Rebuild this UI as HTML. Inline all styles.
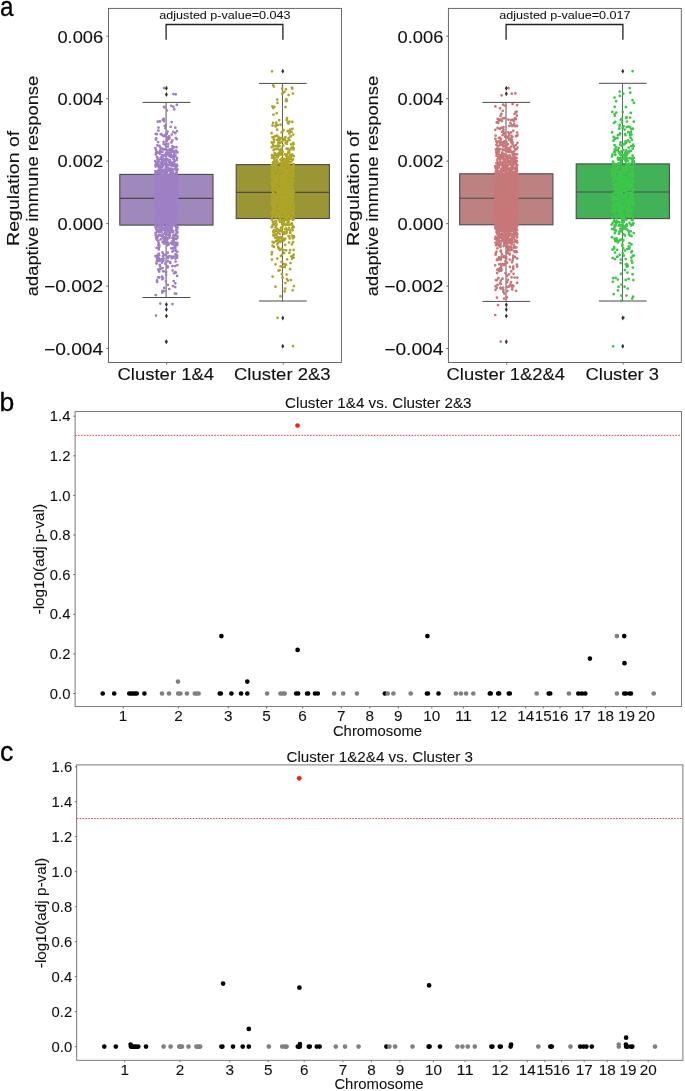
<!DOCTYPE html>
<html lang="en">
<head>
<meta charset="utf-8">
<title>Figure</title>
<style>
html,body{margin:0;padding:0;background:#fff;}
body{width:685px;height:1091px;overflow:hidden;}
svg{display:block;font-family:"Liberation Sans",sans-serif;will-change:transform;}
</style>
</head>
<body>
<svg width="685" height="1091" viewBox="0 0 685 1091">
<rect width="685" height="1091" fill="#fff"/>
<g id="panel-a">
<rect x="108.5" y="8.4" width="232.9" height="354.1" fill="#fff" stroke="#5a5a5a" stroke-width="0.9"/>
<path d="M106.3 36.2L108.5 36.2" stroke="#5a5a5a" stroke-width="0.9"/>
<text x="103.2" y="42.5" font-size="16.3" text-anchor="end" textLength="45.8" lengthAdjust="spacingAndGlyphs" fill="#111" stroke="#111" stroke-width="0.12">0.006</text>
<path d="M106.3 98.7L108.5 98.7" stroke="#5a5a5a" stroke-width="0.9"/>
<text x="103.2" y="105" font-size="16.3" text-anchor="end" textLength="45.8" lengthAdjust="spacingAndGlyphs" fill="#111" stroke="#111" stroke-width="0.12">0.004</text>
<path d="M106.3 161.1L108.5 161.1" stroke="#5a5a5a" stroke-width="0.9"/>
<text x="103.2" y="167.4" font-size="16.3" text-anchor="end" textLength="45.8" lengthAdjust="spacingAndGlyphs" fill="#111" stroke="#111" stroke-width="0.12">0.002</text>
<path d="M106.3 223.6L108.5 223.6" stroke="#5a5a5a" stroke-width="0.9"/>
<text x="103.2" y="229.9" font-size="16.3" text-anchor="end" textLength="45.8" lengthAdjust="spacingAndGlyphs" fill="#111" stroke="#111" stroke-width="0.12">0.000</text>
<path d="M106.3 286.1L108.5 286.1" stroke="#5a5a5a" stroke-width="0.9"/>
<text x="103.2" y="292.4" font-size="16.3" text-anchor="end" textLength="59.2" lengthAdjust="spacingAndGlyphs" fill="#111" stroke="#111" stroke-width="0.12">−0.002</text>
<path d="M106.3 348.5L108.5 348.5" stroke="#5a5a5a" stroke-width="0.9"/>
<text x="103.2" y="354.8" font-size="16.3" text-anchor="end" textLength="59.2" lengthAdjust="spacingAndGlyphs" fill="#111" stroke="#111" stroke-width="0.12">−0.004</text>
<text x="19.5" y="188.3" font-size="16.3" text-anchor="middle" textLength="115.2" lengthAdjust="spacingAndGlyphs" transform="rotate(-90 19.5 188.3)" fill="#111" stroke="#111" stroke-width="0.12">Regulation of</text>
<text x="37.8" y="186" font-size="16.3" text-anchor="middle" textLength="220.5" lengthAdjust="spacingAndGlyphs" transform="rotate(-90 37.8 186)" fill="#111" stroke="#111" stroke-width="0.12">adaptive immune response</text>
<path d="M166.7 362.4L166.7 364.6" stroke="#5a5a5a" stroke-width="0.9"/>
<text x="165.8" y="379.8" font-size="16.3" text-anchor="middle" textLength="96.6" lengthAdjust="spacingAndGlyphs" fill="#111" stroke="#111" stroke-width="0.12">Cluster 1&amp;4</text>
<path d="M283.2 362.4L283.2 364.6" stroke="#5a5a5a" stroke-width="0.9"/>
<text x="282.3" y="379.8" font-size="16.3" text-anchor="middle" textLength="96.6" lengthAdjust="spacingAndGlyphs" fill="#111" stroke="#111" stroke-width="0.12">Cluster 2&amp;3</text>
<path d="M166.1 102.4L166.1 174.4" stroke="#666" stroke-width="1.1"/>
<path d="M166.1 225.1L166.1 297.5" stroke="#666" stroke-width="1.1"/>
<path d="M142.5 102.4L190.3 102.4" stroke="#4a4a4a" stroke-width="1"/>
<path d="M142.5 297.5L190.3 297.5" stroke="#4a4a4a" stroke-width="1"/>
<rect x="119.8" y="174.4" width="93.2" height="50.7" fill="#9e88bc" stroke="#4a4a4a" stroke-width="1.1"/>
<path d="M119.8 198.4L213 198.4" stroke="#4a4a4a" stroke-width="1.1"/>
<path d="M175.9 256h.01M165.6 180.9h.01M159.3 260.9h.01M166.6 201.7h.01M157.3 255.6h.01M162 259.2h.01M170.7 126.8h.01M156.1 152.6h.01M169.8 212.1h.01M155.5 219.1h.01M167 216.8h.01M160.6 170.3h.01M155.8 187.5h.01M174 247.8h.01M166.8 187.3h.01M170 233.7h.01M165.4 241.2h.01M177.5 227.3h.01M162.2 159.2h.01M160.3 260.6h.01M172.3 203h.01M164.1 181.3h.01M176.6 172.2h.01M174.2 236.7h.01M175.6 166.5h.01M165.7 198.5h.01M156.8 151.8h.01M169.3 204.4h.01M157.1 192h.01M162.6 235.2h.01M157.8 121.7h.01M160.7 216.3h.01M173 185.4h.01M159.2 188.9h.01M159.4 246.1h.01M171.6 217.2h.01M157.8 152.9h.01M164.6 149.3h.01M176.9 190h.01M173.2 162.5h.01M159.9 231.1h.01M164 106.8h.01M157.4 157.7h.01M177.3 251.8h.01M172.5 190.3h.01M162.5 163.4h.01M157.2 203.9h.01M168.2 181.1h.01M163.5 195.8h.01M165.3 135.2h.01M168 146.5h.01M174.6 212.3h.01M175.5 187.5h.01M173.5 173.9h.01M171.7 198.5h.01M176.2 168.2h.01M174.9 160.8h.01M157.5 237.6h.01M156 228.3h.01M171 165h.01M160.9 206.7h.01M161.7 170.4h.01M159.1 255.1h.01M160.3 201.9h.01M167.7 216h.01M161.5 159.8h.01M175.7 250.3h.01M161.2 196.2h.01M165.2 190.4h.01M163.4 171.5h.01M168 187.8h.01M175.1 168.5h.01M177.1 165.9h.01M168.3 238.3h.01M158.3 258.5h.01M175.6 189.9h.01M170.9 196.7h.01M169.4 189.2h.01M166 200.9h.01M177.6 203.6h.01M156.9 239.4h.01M175.3 272h.01M171.7 220.5h.01M175.7 222.5h.01M163.1 278.3h.01M174.7 238.5h.01M164.5 291.1h.01M168 175.1h.01M169.2 289.1h.01M168.8 244.4h.01M157 156.9h.01M174.9 293.5h.01M171.6 205h.01M168.2 244.6h.01M157.1 281.9h.01M172 166h.01M165.9 136.2h.01M160.3 186.8h.01M168.9 216.1h.01M175.8 250.7h.01M161.9 198.9h.01M170.4 191.6h.01M175.5 190.2h.01M170 171.3h.01M162.5 290.9h.01M170.1 163.4h.01M173.2 182.8h.01M175.7 151.5h.01M168.2 164.9h.01M162.3 230.1h.01M173.9 162.6h.01M174.2 157.2h.01M161.4 226.3h.01M161.3 173.7h.01M160 153.8h.01M166.2 254.9h.01M162.2 164.8h.01M165.3 128.1h.01M174.7 188.1h.01M156.1 193.3h.01M162.1 214.3h.01M172.9 257.5h.01M165.4 173.5h.01M155.7 195.6h.01M158.3 182.1h.01M156.2 228.9h.01M169.3 233.7h.01M169.8 235.6h.01M170.5 156.9h.01M159.2 182h.01M155.4 148.1h.01M159.2 271.6h.01M161.3 185.7h.01M166.8 239.6h.01M168.9 138.9h.01M172.9 196.8h.01M175.5 245.4h.01M171.4 105.8h.01M158.1 142h.01M175.6 261.5h.01M163.6 179.7h.01M173 286.1h.01M176.3 239h.01M159.8 264.9h.01M171.3 183.3h.01M171.3 170.7h.01M160 259.6h.01M177.1 275.9h.01M162.4 279.2h.01M175.6 217.7h.01M157 171.9h.01M165.1 232.7h.01M166.1 274.7h.01M155.8 223.5h.01M173.1 192.4h.01M159 214.5h.01M158.3 240.6h.01M158.5 127.6h.01M174 273.3h.01M170.6 206.4h.01M176.4 147.2h.01M157.1 216.9h.01M161.7 188.4h.01M171.5 142.3h.01M174.1 235.2h.01M167.7 242.3h.01M174.1 216h.01M175.3 156.1h.01M176.9 174.9h.01M166.9 110.4h.01M167.2 226.8h.01M166.4 212.5h.01M176.9 207.4h.01M166.7 205.4h.01M167.8 266.9h.01M166.2 149.4h.01M167.2 204.9h.01M164.4 214.7h.01M161.2 227h.01M164.9 222.7h.01M173.4 194.5h.01M162.3 155.4h.01M159.5 229.8h.01M158.1 277.3h.01M172.6 270.6h.01M160.3 168.2h.01M170.6 194.2h.01M169.1 217.8h.01M157.5 159.2h.01M166.6 201.5h.01M160.8 222.4h.01M165 180h.01M163.6 144.1h.01M158.8 247.8h.01M159.8 168.9h.01M167 244h.01M174.2 247.7h.01M160.4 269.1h.01M171.8 258.2h.01M162.3 161.1h.01M162.2 292.5h.01M177.5 169.6h.01M175.1 213.9h.01M171.5 175.5h.01M161 172.8h.01M164.6 126.1h.01M172.9 148h.01M170.5 165.2h.01M155.6 164.8h.01M175.6 177.1h.01M176.9 131h.01M172.2 157h.01M166.4 161.7h.01M156.8 210.5h.01M157.6 226.5h.01M166.7 140.9h.01M167.9 184.8h.01M159.7 180.5h.01M174 174.8h.01M157.3 205.1h.01M165.5 154.9h.01M165.6 194.8h.01M166.7 240.1h.01M155.5 256.1h.01M170.9 171.6h.01M165.3 182.1h.01M171.7 223.2h.01M158.9 224.2h.01M166.7 181.3h.01M173.1 189h.01M169.3 224.8h.01M164.2 287.9h.01M177.2 243.6h.01M173.2 231.1h.01M171.9 204h.01M164.3 183.6h.01M175.3 283.3h.01M172.4 146.1h.01M172.3 248.1h.01M156.8 260.9h.01M162.8 156.7h.01M163.1 205.3h.01M169.5 197.3h.01M176.3 222.8h.01M170.1 222.5h.01M167.9 234.7h.01M167.1 140h.01M172.2 244.2h.01M177.1 255.4h.01M171.7 134.5h.01M160.9 189.4h.01M159.6 210.9h.01M163.6 189.9h.01M175.5 169.6h.01M167.5 178h.01M167.9 204.6h.01M173.3 131.9h.01M156.9 200.7h.01M156.2 263.3h.01M176 244.1h.01M159 170.2h.01M166.3 154h.01M176.3 211.1h.01M164.6 209.1h.01M163.4 260.9h.01M161.6 209.2h.01M161.5 232.3h.01M171.2 248.3h.01M160.7 200.9h.01M156.1 191.1h.01M163.9 155.1h.01M175.3 133.2h.01M177.3 198.8h.01M176.3 213.6h.01M164.8 107.5h.01M165.9 153.3h.01M166.9 164.1h.01M176.2 204.5h.01M177.1 207.6h.01M173.5 250.5h.01M169.2 217h.01M165.4 212.7h.01M167 194.2h.01M158 183.9h.01M165.4 263.7h.01M161 174.2h.01M172.6 241.1h.01M167.1 222.8h.01M171.6 200.3h.01M175.2 196.9h.01M172.7 175.7h.01M161.3 229.9h.01M170.5 229.9h.01M169.4 256.2h.01M172.1 223.5h.01M177.1 185.5h.01M175.7 165.7h.01M156.5 189h.01M161.2 207.8h.01M157.5 257h.01M167.3 169h.01M170.3 180.7h.01M167.5 189.9h.01M165.9 229.4h.01M159.9 231.8h.01M174 241.6h.01M156.8 134.2h.01M169.1 136.4h.01M172.4 140.3h.01M161 187.3h.01M173.3 150.7h.01M177.3 245h.01M162.5 148.6h.01M175.8 272.6h.01M164.8 221.9h.01M174.8 213h.01M156.9 183.1h.01M166 146.3h.01M170.5 168.5h.01M156.9 223.1h.01M160 121.4h.01M162 208.8h.01M171.4 215.1h.01M158.4 211.8h.01M163.2 234.5h.01M157.8 205.3h.01M171.1 242.9h.01M176.2 293.7h.01M175.6 242.8h.01M162 276.7h.01M162.3 166.6h.01M175.2 287h.01M160.7 134.1h.01M163.3 227.5h.01M164 164.5h.01M167.8 222.1h.01M173 178.6h.01M167.8 284.9h.01M159.1 221.1h.01M161.5 193.2h.01M155.7 295.1h.01M167.9 257h.01M176.8 204.4h.01M156.6 247.8h.01M167.4 267.4h.01M157 194h.01M171.7 217.7h.01M169.4 182.7h.01M158.4 210.3h.01M160.7 200.4h.01M160.1 266.4h.01M172.3 193.1h.01M164 255.2h.01M170.2 263.1h.01M171.3 256.7h.01M171 196.3h.01M173.7 157.2h.01M170.1 223.1h.01M173.9 147.3h.01M175.1 266.1h.01M166.9 134h.01M171.1 216.2h.01M164.6 182.8h.01M158.4 245h.01M163.6 206.5h.01M164.7 183h.01M161.7 171.1h.01M162.1 182.6h.01M157.7 201.7h.01M159.2 247.1h.01M156.6 263.6h.01M175.5 258.6h.01M156 182.7h.01M160 175.4h.01M160.4 179.7h.01M160.2 211.5h.01M159.3 260.2h.01M172.1 204.2h.01M162.2 170.3h.01M165.9 281h.01M161 224.4h.01M162.8 119.7h.01M167.4 266.1h.01M160.1 146.8h.01M156.3 213h.01M163.8 118.9h.01M167 225.9h.01M177.4 236h.01M169.9 202.3h.01M165.8 198.1h.01M163.5 191.7h.01M168.8 177.2h.01M158.7 269.5h.01M161 175.8h.01M174.6 164.2h.01M177.4 265h.01M161.1 205.4h.01M172.4 224.8h.01M155.2 204.4h.01M173.6 159.3h.01M157 280.3h.01M157.4 207.9h.01M165.9 124.8h.01M168.3 175.8h.01M172.9 173.7h.01M164.5 229.7h.01M173.7 180.9h.01M159.8 208.8h.01M158.7 253.7h.01M173.8 214h.01M156.9 213.8h.01M162 161.2h.01M163.2 271.3h.01M170.6 183.4h.01M165.5 161.7h.01M176.8 169.7h.01M155.5 165.8h.01M163.6 258.5h.01M167.8 207.2h.01M165.4 232h.01M173.1 189.1h.01M161.7 181.2h.01M163.6 136.2h.01M162.7 236.8h.01M164 208.4h.01M159.7 216.6h.01M171.6 229.8h.01M167.8 252.6h.01M173.7 205.5h.01M157.2 240.1h.01M170.4 185.4h.01M171 182.5h.01M173.9 178.4h.01M168.5 155.6h.01M158.7 170.3h.01M158 180.6h.01M175.8 213.8h.01M164.7 188.6h.01M172.4 266.1h.01M173.6 203.5h.01M164.4 230.3h.01M155.5 171h.01M177.2 257.6h.01M172.9 156.2h.01M155.6 232.9h.01M162.6 252.8h.01M157.6 235.8h.01M163.6 141.8h.01M173.7 281h.01M168.9 203.5h.01M175.4 155.1h.01M167.5 131.6h.01M158.4 231.8h.01M171.2 154.5h.01M171.2 142.4h.01M173.9 203.3h.01M169.2 161.9h.01M160.7 192.3h.01M168.1 180.1h.01M176 212.3h.01M163.3 238.2h.01M177 222.1h.01M158.2 193.1h.01M167.7 150.3h.01M167.7 231.9h.01M177.4 207.9h.01M157.9 172.5h.01M173.6 256.5h.01M160.6 222.6h.01M159.3 277.6h.01M167.4 238h.01M159.2 188h.01M177.3 193.1h.01M162.1 134.9h.01M170.2 224.1h.01M168.4 202.2h.01M173.2 244.4h.01M165.7 167.5h.01M158.4 195.4h.01M159.1 244.6h.01M166.8 158.8h.01M162.6 203.8h.01M169.5 138.2h.01M158.4 130.7h.01M176.7 182.2h.01M164.4 241.3h.01M169.1 229.7h.01M172 228h.01M166.1 271.9h.01M174.3 109.3h.01M164.3 201.6h.01M175.5 254h.01M167 174.2h.01M175.4 247.8h.01M162.4 206.4h.01M175.3 127.7h.01M171.6 173.2h.01M162 262.6h.01M168.5 243.6h.01M165.2 176.8h.01M166.4 188.4h.01M170.7 210.8h.01M167 189.4h.01M164 195.9h.01M160.5 158.7h.01M176.8 104.9h.01M170.1 155.6h.01M173.2 165.9h.01M160.1 235.1h.01M175.4 199.9h.01M157.4 259.2h.01M167.2 192.3h.01M176.5 221.9h.01M161.9 163.6h.01M162.4 198.5h.01M173.4 106.8h.01M164.1 160.5h.01M156.2 237.2h.01M155.9 149.9h.01M166.3 166.3h.01M176.1 211.4h.01M159.8 170.6h.01M161.8 202.6h.01M159.6 151.5h.01M173.9 223.5h.01M159 215.8h.01M174.9 176.2h.01M169.3 181.8h.01M159.5 199.1h.01M157.6 192.8h.01M171.4 204.1h.01M174.7 219.3h.01M171.1 149.1h.01M176.2 173.1h.01M165.1 169.7h.01M162.1 183h.01M171.1 190.2h.01M160.4 193.4h.01M170.1 183.7h.01M170 192.6h.01M175 222h.01M161.9 213.8h.01M175.9 208.3h.01M169.5 208.6h.01M157.2 216.1h.01M167 171.9h.01M167.1 201.5h.01M161.5 166.2h.01M160.8 189.1h.01M161.6 195.1h.01M172.1 208.7h.01M167.5 198.1h.01M159.3 178.4h.01M155.9 139.5h.01M165.5 243.3h.01M176 198.5h.01M166.4 223.2h.01M169.6 185h.01M163.2 169.8h.01M166.7 222.4h.01M166.5 235.2h.01M166.8 177.2h.01M176.5 229.9h.01M158.9 178.6h.01M168.8 160h.01M172.5 196.1h.01M172.8 171.8h.01M166.1 193.9h.01M160.1 216.3h.01M156 224.3h.01M168.5 212.8h.01M174.7 205.8h.01M159.2 230.4h.01M166.3 195.9h.01M164.9 194.8h.01M173.1 216.8h.01M156.8 191.6h.01M167.3 171.6h.01M172.9 216.4h.01M162.1 197.6h.01M156.1 184.6h.01M166.9 212.3h.01M161.1 166.6h.01M173.6 207.7h.01M159 204.3h.01M170.6 199.1h.01M173.8 183.9h.01M164.4 196.6h.01M163.3 207.3h.01M156.1 184.7h.01M166.1 133.8h.01M158.4 193.5h.01M165.4 271.5h.01M160.6 198.8h.01M175.1 205.7h.01M161.9 182.9h.01M164.7 179.2h.01M177.5 192.8h.01M172.3 195.6h.01M160.8 200.4h.01M167.5 216.6h.01M176.1 197.2h.01M163.3 170.9h.01M168.9 235.3h.01M156.1 138.4h.01M156.5 228.3h.01M162.9 177.9h.01M168.4 215.6h.01M175 245.6h.01M174.1 222.9h.01M163.7 192.8h.01M163 195.2h.01M159.3 215.7h.01M159.7 212.8h.01M160 203.2h.01M165.2 219.6h.01M177.4 194.3h.01M159.8 220h.01M163.8 243.6h.01M163.3 164.3h.01M161.3 181.7h.01M161.1 182.9h.01M164 196.8h.01M161.2 163.5h.01M163.3 216.9h.01M163.2 165.2h.01M172.3 150.4h.01M155.6 207.7h.01M162.4 252.3h.01M174.9 206.4h.01M162.5 191.7h.01M156.4 194.7h.01M164 228.6h.01M158.6 198.1h.01M168.5 191.4h.01M164.7 177.4h.01M167.4 194.3h.01M161 172.9h.01M171.4 169.1h.01M159.8 205.7h.01M161.5 210.8h.01M163.8 204.5h.01M174.6 223.4h.01M162.9 195.5h.01M160 178.1h.01M169.3 193.2h.01M167.9 197.2h.01M161.9 174.1h.01M170.2 262.1h.01M170.6 183.4h.01M170.1 207.1h.01M160.4 150.3h.01M169.3 212.6h.01M164 176.3h.01M156.5 184.5h.01M166.3 215.2h.01M161.4 183.7h.01M165.8 184.8h.01M158.9 177.3h.01M157.3 208h.01M162.8 214.6h.01M168.2 211.2h.01M170.9 191.9h.01M155.7 235.2h.01M163.9 211.3h.01M164.2 204.5h.01M156.4 191.8h.01M165.7 231.8h.01M162.5 197.7h.01M162.9 198.7h.01M175.2 193.2h.01M170.1 216.5h.01M159.3 206.4h.01M176.6 232.5h.01M163.3 192h.01M172.5 251.6h.01M169.2 226.1h.01M164.5 217.3h.01M161.4 216.3h.01M163.7 174h.01M175.6 243.7h.01M166.5 185.5h.01M162.1 195.4h.01M158.5 242.5h.01M159.5 145.9h.01M160.4 193.5h.01M155.2 161.2h.01M160.5 222.7h.01M166.2 205.4h.01M169.2 217.1h.01M167.7 224.1h.01M162.6 166.5h.01M162.9 256.1h.01M171.2 182.3h.01M170.8 212.8h.01M173.6 223.6h.01M158.7 258h.01M167.8 219.6h.01M163.5 218.7h.01M167.1 207.9h.01M160.5 158.1h.01M159.2 198.5h.01M166.7 176.5h.01M156.7 192.3h.01M157.5 192.2h.01M165.3 202h.01M172.5 210.3h.01M174.6 213.4h.01M174.7 196.8h.01M166.5 180.6h.01M173 192.3h.01M160.8 229.5h.01M171.2 173.8h.01M172.2 209.1h.01M174.1 178.7h.01M164.6 183.3h.01M171 227.1h.01M173.1 232.3h.01M158 231.5h.01M160.4 225.2h.01M159.3 172.7h.01M176.3 165.6h.01M176.9 195.8h.01M164.6 173.2h.01M169.3 170.2h.01M177.3 244.9h.01M156.3 163.5h.01M156.1 201.5h.01M161.6 210.8h.01M157.9 208h.01M162.6 277.5h.01M166 167.8h.01M163.5 193.4h.01M174 214.9h.01M161.5 156.8h.01M172.3 225.5h.01M177.1 176.8h.01M167.4 228.1h.01M173.1 174h.01M157.6 189.3h.01M176.1 186.3h.01M157.9 198.9h.01M162.4 169.7h.01M158.4 166.6h.01M169.2 194.7h.01M166 201.3h.01M163.4 180.9h.01M156.6 199.1h.01M175.2 190.5h.01M159.3 202.3h.01M166 189.2h.01M174.6 181.8h.01M166 198.9h.01M164 237.6h.01M156.5 175.5h.01M169.1 233.3h.01M161.4 210h.01M177.4 152.3h.01M165.1 217.3h.01M159.1 178.5h.01M155.8 233.3h.01M156.8 192.5h.01M163.2 187.7h.01M166.7 198.1h.01M155.4 220.1h.01M155.4 183h.01M167 137.4h.01M171.6 182.3h.01M164.1 239.8h.01M172.4 183.3h.01M177.3 242.9h.01M164.2 149.3h.01M171 162.4h.01M155.7 198.8h.01M168.1 143.8h.01M163.4 195.1h.01M169.9 174.1h.01M169.5 189.8h.01M163.1 220.7h.01M162.4 208.5h.01M157.3 145.3h.01M159.9 219.5h.01M171.8 163.2h.01M159.1 234.8h.01M157.5 209.4h.01M164.8 184.2h.01M155.4 180.5h.01M162.4 224h.01M167.2 199h.01M174.9 182.5h.01M162.4 203.6h.01M177.3 198.3h.01M164.8 210.6h.01M164.3 181.5h.01M171 202.7h.01M170.3 189.9h.01M176.4 180.7h.01M163.2 205.6h.01M177.3 184.3h.01M163.6 177.4h.01M169.6 170.2h.01M175.1 190.5h.01M174.4 165h.01M167.9 219.1h.01M157.7 220h.01M165.3 178.7h.01M170.1 231.2h.01M160.3 220.1h.01M168.6 186.7h.01M155.9 225.6h.01M169.2 211.9h.01M168.5 230.3h.01M176 187.6h.01M177.4 182.4h.01M171.7 175.7h.01M177.3 214.3h.01M164.2 161h.01M177.4 189.9h.01M166.2 208.2h.01M169.7 193.9h.01M176.2 151h.01M166.6 177.3h.01M177.4 237.8h.01M171.1 152.3h.01M160.8 178.6h.01M167.2 189h.01M174.6 224.3h.01M169.6 191.9h.01M156.8 179.5h.01M166.2 240h.01M160.6 213.5h.01M172.4 183.5h.01M167.5 245.3h.01M158.6 161.6h.01M163.4 223.5h.01M162.9 193.1h.01M174.5 194.6h.01M159.2 192.3h.01M163.9 209.4h.01M175.4 178.4h.01M156.8 226.7h.01M169.3 181.7h.01M174.8 199.9h.01M170.1 200.9h.01M164.8 215h.01M162.2 176h.01M169.3 196.4h.01M170.7 204.7h.01M159.2 165.2h.01M165.6 172h.01M158.1 170.9h.01M168.8 154.3h.01M163.2 159h.01M170.7 171.7h.01M171.7 122.1h.01M164.3 212.4h.01M158.5 182.1h.01M173.5 216.5h.01M164.3 217.9h.01M176.3 227.2h.01M162.9 190.7h.01M168.2 203.9h.01M161.6 216.1h.01M174.3 184.3h.01M170.3 213.3h.01M163.9 254.5h.01M171.8 182.4h.01M156.6 220.5h.01M164.6 214.8h.01M176.6 203.9h.01M161.7 172.2h.01M160.7 211.3h.01M164.4 233.7h.01M160.8 162.8h.01M164.6 159.4h.01M174.2 223.8h.01M168.4 159.8h.01M175.3 209.6h.01M157.2 201.9h.01M171.4 214.5h.01M170.2 180.3h.01M176.4 228.3h.01M155.7 154.3h.01M163.3 217.5h.01M165.6 219.5h.01M168.7 213.6h.01M176.9 164.5h.01M164 121.2h.01M173.7 210.2h.01M177.5 221.4h.01M156.7 230h.01M169.9 223.2h.01M160.1 192.7h.01M163.5 181.5h.01M158.4 199.7h.01M157 231h.01M158.9 173.4h.01M171.8 219.3h.01M160.9 226.7h.01M172.6 183.4h.01M157.9 236.1h.01M174.4 203h.01M176.3 197.7h.01M163 194.2h.01M167.2 202h.01M172.9 210.5h.01M161.9 201.2h.01M167.9 211.5h.01M158.1 199.2h.01M161.8 173.2h.01M172.6 182.8h.01M156.4 198.1h.01M160.1 172.8h.01M165.5 229.1h.01M174.2 189.1h.01M158.6 160h.01M176.9 168.9h.01M168.9 223.8h.01M174.5 202.6h.01M155.4 173.5h.01M158.6 204.4h.01M171.1 181.7h.01M158.7 235.6h.01M157.6 204.5h.01M161.9 199.8h.01M174.2 163.6h.01M156.2 206.2h.01M161 207.3h.01M157.7 193.5h.01M166.1 179.2h.01M169.8 209.5h.01M167.9 152.9h.01M166.4 238.1h.01M161.9 178h.01M171.7 212.8h.01M164.8 199.9h.01M165.9 174.7h.01M165.3 215.3h.01M156.3 178h.01M167 194h.01M167.4 206.3h.01M157.4 212.9h.01M163.5 188.2h.01M160.3 209.9h.01M172 172.2h.01M164.3 202h.01M176.8 198.4h.01M176.7 165.1h.01M163.4 197.1h.01M161.9 218.2h.01M168.8 212.5h.01M166.3 217h.01M166.7 210.2h.01M157.3 198.4h.01M160.8 206.9h.01M164.7 204.2h.01M174.4 154.5h.01M170.4 215.4h.01M157.1 186.8h.01M162.5 151.7h.01M162.3 203.3h.01M169.6 180h.01M156.4 238.5h.01M169.2 198h.01M167.5 206.4h.01M155.7 166.6h.01M176.1 214.3h.01M155.3 198.1h.01M171.7 231.5h.01M177.2 231.5h.01M175.7 180.1h.01M165 159.8h.01M172 178.9h.01M165 218.2h.01M157.8 179.7h.01M156.8 215.9h.01M157.8 161.8h.01M167.5 180h.01M157.7 230.6h.01M176.5 182.8h.01M167.7 184h.01M164.5 183.4h.01M167.2 206.7h.01M174.7 191.8h.01M165.8 209.5h.01M163.6 172.6h.01M170.3 193.4h.01M170.6 172.4h.01M163.9 211.3h.01M171.8 196.5h.01M158.9 210.2h.01M162.9 213h.01M158.8 207.2h.01M166.8 218.2h.01M163.9 171.6h.01M163.2 241.5h.01M168.3 220.2h.01M162.5 268.2h.01M170.8 190h.01M171.5 196.6h.01M168.1 179.3h.01M173.7 199h.01M163.6 189.5h.01M169 204.2h.01M167.7 224.6h.01M165.4 144.5h.01M166.1 206.9h.01M157.5 193.7h.01M162 157.1h.01M170.8 194.8h.01M167.9 204.1h.01M158.6 219.9h.01M176.5 205.8h.01M157.4 194.4h.01M172.7 243.6h.01M167.2 195.3h.01M168.8 182.3h.01M168.2 167.8h.01M175.3 169.4h.01M163.3 164.7h.01M176.5 216.2h.01M174.4 202.7h.01M171.5 218.9h.01M155.6 200.4h.01M167.2 179.8h.01M160.8 199.1h.01M158.1 177.8h.01M161.6 218.5h.01M161.4 196.7h.01M158.8 249.4h.01M174.4 201.6h.01M167.4 177.7h.01M171.6 225.7h.01M175.8 234.4h.01M172.5 206.5h.01M176.2 199.1h.01M163.3 190.3h.01M165.3 194.4h.01M163.5 216.3h.01M166.5 206.4h.01M167.9 258h.01M176.5 209.2h.01M157.6 183.8h.01M156.8 164.6h.01M175.4 212h.01M157.9 172.8h.01M177.3 179.3h.01M156.6 217.1h.01M170.1 151.4h.01M168 193h.01M177.2 196.1h.01M172.8 218.1h.01M166.8 243.7h.01M159.3 171.6h.01M167 184.4h.01M159.6 216.5h.01M171 175.3h.01M156.9 223.6h.01M166.1 184.3h.01M167.8 261.3h.01M158.2 222.3h.01M170.9 205.6h.01M176.2 177.1h.01M175.9 138.2h.01M174.4 207.8h.01M166.1 194h.01M168.4 200.6h.01M168.9 212.1h.01M176.1 230.3h.01M176.7 172.7h.01M155.9 183h.01M176.6 160.2h.01M155.7 166.1h.01M170.6 152.6h.01M166.8 189.2h.01M173.3 235.5h.01M155.2 218.9h.01M177 158.2h.01M173.8 180.2h.01M162.9 217.5h.01M155.5 186.2h.01M168.3 196.2h.01M167 217.9h.01M165.4 217.8h.01M160.4 166.4h.01M158.5 187.2h.01M160.9 209.1h.01M162.6 241.9h.01M160.5 192.9h.01M166.9 209.6h.01M160.9 214.6h.01M160.4 187.2h.01M161.9 209.8h.01M170.3 217.9h.01M172.9 163.3h.01M172.3 208.4h.01M160.7 201.1h.01M177.3 193.4h.01M163.5 173.3h.01M177.4 232.7h.01M163.8 155.5h.01M172.7 169.6h.01M162.7 165.4h.01M161.6 192.5h.01M168.5 222.2h.01M173.5 200.1h.01M155.5 227h.01M156.6 223.1h.01M175.7 198.5h.01M174.8 188.1h.01M176.7 185.3h.01M176 177.9h.01M158.4 208.2h.01M159.5 211.9h.01M158.2 257.4h.01M171.4 221.2h.01M176.4 245.1h.01M157.9 221.7h.01M161.3 191.7h.01M159.3 189.7h.01M163 202.2h.01M159.3 178.2h.01M157.9 192.1h.01M167.9 229.3h.01M172.2 203.9h.01M157 258.3h.01M160.2 208.7h.01M172.2 179.6h.01M175.9 188.7h.01M162.6 213.4h.01M167.9 199h.01M177 210.8h.01M165.5 156h.01M165.6 237.2h.01M159.4 227.8h.01M155.7 133.9h.01M172.3 222.4h.01M158.8 205.2h.01M159.1 193.8h.01M155.6 200.1h.01M160.1 215.8h.01M169.8 189.7h.01M165.6 226.6h.01M162 196.8h.01M156.1 194.6h.01M163.4 200.9h.01M165.8 164h.01M163.2 214.2h.01M175 213.9h.01M167.3 221.3h.01M165.5 211.3h.01M160.4 226h.01M176.1 150.6h.01M158.8 167.5h.01M166.6 239.8h.01M159 178.1h.01M171.4 200.6h.01M158.7 195.5h.01M176.4 165.7h.01M170.6 201h.01M163 187.6h.01M175.8 225.9h.01M166.7 209.3h.01M166.3 199.7h.01M161.2 197.6h.01M165.5 230.2h.01M157.2 214.5h.01M169.5 227.3h.01M176.9 198.2h.01M157.1 203.7h.01M173.1 172.1h.01M173 194h.01M160.9 151.9h.01M164.7 174.4h.01M167.6 215.6h.01M166 171.3h.01M161.7 208.3h.01M162.8 182.6h.01M159.6 223.4h.01M173.2 188.3h.01M177.1 152.4h.01M173 165.7h.01M171.1 217.5h.01M159.1 182.2h.01M173.4 240.4h.01M175.8 204.8h.01M155.7 181h.01M172.9 221.5h.01M168.9 200.3h.01M169.6 149.4h.01M156.6 229.4h.01M177.2 204.6h.01M174.7 209.1h.01M170.7 204.6h.01M172.2 183.7h.01M158 163.9h.01M171.5 201.9h.01M172.4 151.7h.01M172.8 180.5h.01M176.3 175.9h.01M169.5 221.7h.01M163.1 223.2h.01M155.7 197.4h.01M160.3 175h.01M169.8 160.9h.01M166.7 192.5h.01M162.3 236.6h.01M169.7 200.9h.01M170.5 182.7h.01M175.9 177.7h.01M175.6 206.6h.01M169 214.1h.01M176.7 139h.01M161.4 195.2h.01M166.9 220.9h.01M174.5 205.3h.01M167.2 198.1h.01M160.8 239.3h.01M159.6 191.7h.01M162.5 214.8h.01M156.7 207.6h.01M167 176.5h.01M176.4 191.1h.01M164.3 215.1h.01M160.4 218.5h.01M157.9 260.9h.01M164.9 188.3h.01M167.6 215.3h.01M169.5 237.6h.01M160.8 148.7h.01M167.3 219h.01M159.4 168h.01M172.3 199.1h.01M167.5 185.3h.01M161.3 193.6h.01M162.3 206.2h.01M172.4 238.1h.01M165.4 222h.01M164.9 229.9h.01M176.6 176.4h.01M175.1 181h.01M161.2 189.6h.01M170.7 195.3h.01M164.7 210.7h.01M168 193.6h.01M169.7 199.5h.01M170.4 224h.01M171.1 204.4h.01M158.1 203.7h.01M155.6 172h.01M156.8 189.1h.01M157.5 220.4h.01M176.5 180.9h.01M168.3 181.4h.01M162.2 221.7h.01M162 186.1h.01M160.1 199.9h.01M164.4 178.8h.01M164.1 220.9h.01M172.9 184h.01M171 211.2h.01M165 221.2h.01M165.3 191h.01M164.4 212.6h.01M162 166.6h.01M165.8 194.7h.01M174.9 225.9h.01M175.3 221.9h.01M177 191.8h.01M170.2 193h.01M171.8 223.3h.01M176.5 210.1h.01M169.9 160.2h.01M169.8 211.7h.01M160.2 221.9h.01M177.1 194.7h.01M162.8 229.5h.01M164.5 199.7h.01M172.3 203.1h.01M160.1 200.7h.01M164.1 164.2h.01M175.6 182.1h.01M156.5 199.3h.01M173.9 238.8h.01M163.9 221.7h.01M172.2 231.9h.01M171.9 219.8h.01M171 215.3h.01M167.7 207.7h.01M158.2 269.5h.01M172.7 218.9h.01M176.5 216.8h.01M161.3 162.7h.01M166.3 226.6h.01M158.9 211.2h.01M170 235.9h.01M161.7 236.1h.01M158.4 189.6h.01M168.7 223.1h.01M177.4 228.4h.01M167.9 191.1h.01M172.2 176.3h.01M156.9 205.3h.01M170.6 210.6h.01M173.7 162.2h.01M163.2 213.2h.01M167.2 185h.01M169.9 174.7h.01M158.5 195h.01M176.1 217.6h.01M160.8 151.6h.01M157.1 193.1h.01M173 187.4h.01M166.1 200h.01M170.8 218.1h.01M174.4 153.2h.01M159.9 190.5h.01M162.7 209.8h.01M174.9 235.7h.01M162.2 193h.01M164 88h.01M173.4 94h.01M175.8 94.3h.01M156 315.5h.01M166 341.6h.01M172.5 304h.01M160.3 303.5h.01" stroke="#9e7ec4" stroke-width="2.75" stroke-linecap="round" fill="none"/>
<path d="M166.4 85.7l1.4 2.5l-1.4 2.5l-1.4 -2.5z" fill="#2b2b2b"/>
<path d="M166.4 91.9l1.4 2.5l-1.4 2.5l-1.4 -2.5z" fill="#2b2b2b"/>
<path d="M166.4 302l1.4 2.5l-1.4 2.5l-1.4 -2.5z" fill="#2b2b2b"/>
<path d="M166.4 307l1.4 2.5l-1.4 2.5l-1.4 -2.5z" fill="#2b2b2b"/>
<path d="M166.4 313.5l1.4 2.5l-1.4 2.5l-1.4 -2.5z" fill="#2b2b2b"/>
<path d="M166.4 339.3l1.4 2.5l-1.4 2.5l-1.4 -2.5z" fill="#2b2b2b"/>
<path d="M282.5 83.4L282.5 164.6" stroke="#666" stroke-width="1.1"/>
<path d="M282.5 218.5L282.5 301" stroke="#666" stroke-width="1.1"/>
<path d="M258.9 83.4L306.7 83.4" stroke="#4a4a4a" stroke-width="1"/>
<path d="M258.9 301L306.7 301" stroke="#4a4a4a" stroke-width="1"/>
<rect x="236.2" y="164.6" width="93.2" height="53.9" fill="#9a9634" stroke="#4a4a4a" stroke-width="1.1"/>
<path d="M236.2 192.4L329.4 192.4" stroke="#4a4a4a" stroke-width="1.1"/>
<path d="M281.5 138h.01M285.3 167.8h.01M293.7 249.9h.01M285.5 186h.01M275 157.9h.01M281.5 148.6h.01M281.3 201.6h.01M286.8 141.3h.01M275.5 286.7h.01M276.5 238.3h.01M291.4 131.9h.01M279.8 167.6h.01M276.7 216.7h.01M287.2 194.7h.01M273 206.5h.01M284.7 158.9h.01M273.8 242.7h.01M293.7 148.3h.01M285.1 179.4h.01M273.9 180.5h.01M272.1 205h.01M277.7 201.6h.01M286.6 220.2h.01M282.1 206.1h.01M278.1 232h.01M279.7 233.8h.01M277.2 208.8h.01M272 201.6h.01M278.6 155.4h.01M274.2 223.8h.01M290.6 212.7h.01M278.6 248.6h.01M291.5 180.6h.01M286.4 190h.01M287.1 259.3h.01M280.4 241.7h.01M282.9 191.9h.01M283.6 250h.01M289.3 180.1h.01M272.1 164.8h.01M278.4 213.3h.01M285.5 107.1h.01M278 174.6h.01M290.4 156.6h.01M286.9 100.8h.01M281.8 220.4h.01M280.5 266.4h.01M293.8 286h.01M292.2 224.3h.01M277.2 182h.01M293.4 208.1h.01M278.6 247.8h.01M290.9 207.5h.01M273.3 207.3h.01M274.9 183.8h.01M280.4 192.1h.01M284.2 206.7h.01M292.7 209.8h.01M284.9 267.2h.01M284.7 159.4h.01M291.8 166.7h.01M286.7 143.9h.01M283.8 180.8h.01M279.2 140.2h.01M272 252.1h.01M276.6 223.9h.01M273.3 210.3h.01M288.7 219.8h.01M284.1 253h.01M273.9 86.5h.01M289.9 216.4h.01M287.8 220.4h.01M272.4 190.9h.01M289.5 208.3h.01M272.3 171.1h.01M275.3 166.6h.01M278.8 171.6h.01M275.8 197.1h.01M285.9 101.1h.01M272.6 276.6h.01M284.2 266.7h.01M277.3 258.6h.01M287.6 131.2h.01M293.3 169.4h.01M277 139.8h.01M286.7 211.3h.01M273.1 85.4h.01M278.1 177.9h.01M290.5 158.9h.01M286.6 233.1h.01M287.7 224.8h.01M282.7 226h.01M280.2 139.2h.01M283.5 171.4h.01M293.6 180.8h.01M279.9 188.3h.01M284.9 205h.01M292.1 167.7h.01M282.8 167.6h.01M288.8 140.1h.01M275.9 224.6h.01M287.9 206h.01M272.4 106.4h.01M275.9 146.1h.01M285.5 283.1h.01M288.3 173h.01M272.8 186.4h.01M290.1 269h.01M272.5 174.5h.01M272.3 168.7h.01M273.6 157.8h.01M272.7 224.9h.01M292.2 154.4h.01M272.5 245.7h.01M275.9 161.5h.01M274.1 165.9h.01M275.4 170.6h.01M275.4 125.8h.01M275 237.6h.01M284.4 202.1h.01M282.2 239.7h.01M272.5 194.1h.01M279.1 215.5h.01M271.8 212.7h.01M280.4 142.7h.01M283.8 233.5h.01M280.2 167.8h.01M287.5 201.3h.01M292 244.4h.01M272.5 137.2h.01M288.4 200.4h.01M289.2 152.4h.01M275.8 226.1h.01M280.4 296.3h.01M274.1 142.1h.01M293.6 257.5h.01M279.7 197.5h.01M285.2 288.6h.01M284.6 91.8h.01M291.6 218.3h.01M286.3 99.2h.01M293.1 192.3h.01M284.3 161.3h.01M274.6 153.1h.01M285.7 188.4h.01M277.9 208.8h.01M275.9 221h.01M281.6 132.4h.01M277.5 102.9h.01M275.9 241.2h.01M290.6 136.1h.01M279.2 172.2h.01M271.6 133.2h.01M279 188.7h.01M277.8 191.7h.01M273.1 122.9h.01M287.7 195.5h.01M287.8 185.7h.01M290.8 136.6h.01M278.7 145.3h.01M280.5 211.8h.01M282 222.3h.01M287 118.2h.01M293.3 142.9h.01M276.2 122.7h.01M272.4 213.2h.01M280.9 211h.01M284.4 159.8h.01M286.7 120.1h.01M273.8 175.3h.01M272.4 195.1h.01M286.9 279.1h.01M283.9 169h.01M274.2 162.9h.01M286 228.4h.01M272.3 157.3h.01M275.2 186.2h.01M274.5 136.9h.01M285.1 168.5h.01M274.3 171.8h.01M286.7 231.5h.01M284 205.3h.01M284.7 291.3h.01M293.5 144.3h.01M278.1 246.9h.01M282.1 181.3h.01M271.9 259.5h.01M285.1 229.2h.01M283 186.2h.01M274.6 208.6h.01M285.2 192.9h.01M289.4 252.9h.01M283 205h.01M289.6 140.1h.01M282.5 277.6h.01M280.5 124.7h.01M294 236.9h.01M272.7 186h.01M286.8 207.7h.01M275 180.1h.01M285.1 161.7h.01M288.7 150.8h.01M279.9 229.8h.01M291.5 177.9h.01M291.5 190.1h.01M282.4 184.6h.01M291.6 174.1h.01M288.4 172.4h.01M276.4 125h.01M281.6 163.2h.01M292.6 204.1h.01M279.1 201.3h.01M274.1 139.7h.01M272.5 125.5h.01M291.8 223.3h.01M289.3 236.3h.01M285.1 187.8h.01M282.2 177.6h.01M276.3 225.8h.01M286 89.3h.01M292.9 93.5h.01M285.5 142.8h.01M291.9 225h.01M289.4 121.6h.01M274.8 136.3h.01M283.9 177.2h.01M277.2 99.6h.01M284 221.7h.01M288.3 203.8h.01M288.6 165h.01M287.2 217.9h.01M287.9 148.5h.01M273.8 215.4h.01M275.4 186.2h.01M286.1 165.6h.01M279.8 242h.01M293.5 212.2h.01M285.2 169.7h.01M285 139.7h.01M285.4 137.2h.01M291.3 183.5h.01M293.3 257.5h.01M280 250h.01M280.8 153h.01M279.5 238.3h.01M279.5 139.7h.01M286.8 142.2h.01M290.5 263h.01M277.3 244.1h.01M278.7 146.2h.01M292.3 121.9h.01M278.4 140.5h.01M274.8 209.2h.01M285.9 175h.01M277.3 176h.01M288.6 204.5h.01M279.5 176.8h.01M282.2 93.7h.01M281.1 179.8h.01M277.9 153.5h.01M285.9 193.3h.01M289.6 203.6h.01M274.3 206.3h.01M273.4 163.7h.01M272 174.5h.01M281.8 255.2h.01M272.4 226.3h.01M281.1 216.4h.01M279.7 270.3h.01M292.3 88.6h.01M274.4 149h.01M289.7 238.4h.01M273.8 139.6h.01M273.7 158.6h.01M293.8 215.6h.01M284.6 176.7h.01M288.6 95h.01M286.1 264.7h.01M286.6 274.5h.01M275.2 177.6h.01M283.2 240.9h.01M287.6 201.1h.01M289.3 215.2h.01M290.1 250.1h.01M272.7 169.1h.01M275.2 176.9h.01M281.5 151.5h.01M282 202.4h.01M289.1 227.8h.01M279.1 207.2h.01M271.7 142.4h.01M283.9 263.8h.01M273.2 108h.01M277.6 136.3h.01M286.6 184.1h.01M280.9 256h.01M282 224.1h.01M277.4 196h.01M274.7 202.1h.01M276.1 212.3h.01M271.7 254.3h.01M293.7 204.9h.01M275.2 167.6h.01M290.1 232.4h.01M288.6 161.8h.01M289.9 196.1h.01M274.3 161.2h.01M275.3 204.5h.01M292 179.5h.01M282.2 88.6h.01M277 160.3h.01M286.1 159.3h.01M281.4 207.4h.01M281.9 274h.01M281.8 237.3h.01M287 182.4h.01M284.3 202.1h.01M274.9 233.5h.01M279.7 145.8h.01M272.4 178.3h.01M292.7 147h.01M290.4 167.3h.01M279.9 150.3h.01M278.6 183.8h.01M290.4 149.6h.01M280.2 142.7h.01M272 181.6h.01M288.8 171.3h.01M289.3 182.4h.01M273.5 114.7h.01M288.8 176h.01M288.1 152.7h.01M279.6 209.1h.01M282.2 141.6h.01M289.8 181.6h.01M292.2 228h.01M292.6 290.3h.01M275.5 264.3h.01M289.6 159.4h.01M274.3 193.5h.01M290.4 208.7h.01M286.9 142.3h.01M291 162.2h.01M283 92.7h.01M278.2 154h.01M281 179.3h.01M290 130.9h.01M273.2 214.7h.01M279.3 189.5h.01M276.7 113.3h.01M280.9 177.3h.01M283.9 185.7h.01M278.1 242.2h.01M272 155h.01M282.6 211.8h.01M280.1 230.7h.01M278.3 193.7h.01M278.3 176.1h.01M282.4 182.9h.01M272.1 183.9h.01M281.6 158.6h.01M283.4 223.3h.01M289.2 169.6h.01M284.1 188.4h.01M288.5 236.1h.01M282.9 189.9h.01M291.6 167.6h.01M287.9 280.5h.01M283.6 216.5h.01M284.6 239.6h.01M290.8 280.1h.01M272.8 205.9h.01M285 190.9h.01M292 258.7h.01M280 139.4h.01M292.9 174.9h.01M274.9 159.9h.01M288.5 138.2h.01M278.5 270.5h.01M291.4 186.3h.01M288.1 157.3h.01M291.3 190.2h.01M273.4 185.1h.01M287.5 230h.01M292.6 193.7h.01M283.4 208.7h.01M279.2 137.7h.01M274 180.2h.01M274.4 106.8h.01M281.6 266.3h.01M274.1 202.3h.01M279.1 120.2h.01M281.4 238h.01M285 162.5h.01M292 87.5h.01M290.2 232.9h.01M281.9 186.8h.01M286 155.8h.01M293.8 227h.01M278.6 219.6h.01M276.3 180.3h.01M288 190.3h.01M276.9 187.6h.01M277.1 198.3h.01M277.5 178.9h.01M273.9 246.9h.01M287.7 122.5h.01M282.2 206.4h.01M283 192.7h.01M277.7 237.1h.01M278.9 230.4h.01M285.9 197.9h.01M276.4 149.1h.01M276.7 135.5h.01M292.4 128.8h.01M290.5 207.8h.01M284.3 163.2h.01M273.3 231.8h.01M290.4 197.5h.01M272.6 241.9h.01M282.6 151.9h.01M291.6 175.6h.01M286.8 162.9h.01M286.5 193.4h.01M285.9 200.6h.01M273.1 215.6h.01M289.6 157.3h.01M282 216.8h.01M286.9 183.7h.01M283.9 163.8h.01M280.5 190h.01M277.1 190.3h.01M280.9 189h.01M287.2 173.2h.01M272.1 157.7h.01M291.1 212.5h.01M285.4 225.1h.01M279.6 219h.01M286.5 197.2h.01M272.8 183.1h.01M286.6 216.3h.01M285.2 244.8h.01M289.8 167.7h.01M293.8 254.6h.01M285.4 196.2h.01M285.9 190.6h.01M279.8 167.9h.01M271.7 219.4h.01M293.7 173.7h.01M284.9 224.2h.01M293.8 164.3h.01M282 228.2h.01M271.9 170.4h.01M278.9 207.8h.01M280.5 241h.01M277.8 125.1h.01M278.5 196.1h.01M280.5 202.9h.01M281.1 166.3h.01M289.6 166.5h.01M276 230.7h.01M283.5 130h.01M278.4 191.1h.01M291.7 187.3h.01M283.4 199.7h.01M277.6 162.1h.01M279.5 201.3h.01M278 193.9h.01M287.3 173.6h.01M285 233.5h.01M272.9 162.6h.01M274.5 224.2h.01M293.8 192.4h.01M289 242.6h.01M285.6 172.9h.01M285.2 163h.01M283.1 145.4h.01M277.6 139.6h.01M273.2 165.8h.01M286.6 194.9h.01M278.4 192.9h.01M285.2 173.2h.01M291.9 208.4h.01M293.8 156.2h.01M277.3 145.9h.01M290.1 230.2h.01M273.3 162.1h.01M273.8 173h.01M287.7 178.6h.01M283.4 196.1h.01M273 144.6h.01M291.5 191.4h.01M281.6 178.8h.01M272.2 220h.01M283.4 194.1h.01M292.4 198.9h.01M287.8 197.5h.01M287.3 203.6h.01M284.6 213.5h.01M280.9 151.7h.01M278.1 212.8h.01M291.5 195.2h.01M279.8 218.4h.01M275.9 154.8h.01M288.5 123.5h.01M293.6 191.1h.01M275.3 199.8h.01M272.7 196.8h.01M293 219.9h.01M278.3 215.8h.01M274.9 189.8h.01M272.3 173.1h.01M279.9 219.4h.01M292.9 190.7h.01M283.6 211.1h.01M273.9 146h.01M291.2 156h.01M272.8 185h.01M287 197.5h.01M290.3 210.2h.01M275.1 194.6h.01M293.3 211.4h.01M283.7 139.8h.01M272.8 222.2h.01M273.1 231.3h.01M278.2 149h.01M279.5 139h.01M273.5 177.4h.01M281.3 202.8h.01M285.4 177.7h.01M283.6 198.3h.01M272.9 201.8h.01M277.5 236.8h.01M290 174.4h.01M289.4 190.8h.01M271.7 165.2h.01M287.6 222.8h.01M292.9 202.7h.01M276.1 198.2h.01M282.4 209.5h.01M273.6 198.3h.01M287.2 158.7h.01M274.3 199.1h.01M292.6 187.5h.01M280.4 159.8h.01M293.7 236.2h.01M292.7 171.2h.01M276.3 154.3h.01M273.5 178h.01M289.6 191.4h.01M274.2 215.5h.01M286 210.4h.01M284.9 182.5h.01M286 181h.01M274.7 176.1h.01M278.4 238.9h.01M272.3 172.7h.01M291.1 167.5h.01M282.6 211.8h.01M292.1 235.6h.01M289.7 166.4h.01M276.5 234.7h.01M288.7 196.8h.01M282.2 184.3h.01M281.3 169.9h.01M291 193.6h.01M291.4 148h.01M292.3 200.4h.01M273 196.7h.01M286.8 155.3h.01M274.9 161.6h.01M284.4 201h.01M273.4 164.7h.01M281 179.9h.01M290.7 173.8h.01M281.9 231.4h.01M289.3 200.1h.01M284.4 188.5h.01M281.9 204.2h.01M273 183.6h.01M281.1 183.9h.01M274.7 184.4h.01M291 174.7h.01M284 224h.01M290.4 180.3h.01M284.7 173.7h.01M272.7 214.5h.01M276.1 221.6h.01M292.8 238.3h.01M284.9 170.4h.01M284.1 192.2h.01M280.8 183.6h.01M276.2 175.4h.01M272 199.4h.01M291.1 144.4h.01M275.1 183.1h.01M277.1 157.1h.01M285.4 188.4h.01M277.9 154.3h.01M285.2 214.9h.01M277.4 202.8h.01M291.1 148.3h.01M279.4 216.1h.01M293 242.2h.01M286.1 209.5h.01M278.6 201.9h.01M285.3 186h.01M277 186.8h.01M274.8 154.6h.01M288.5 164.7h.01M292.5 195.4h.01M290.2 166.8h.01M285.1 154h.01M292.6 255.9h.01M278.9 216.9h.01M280.1 216.2h.01M286 209.9h.01M291 200.2h.01M272.2 195.3h.01M279.8 210.4h.01M283.9 238.8h.01M283.2 171.1h.01M286.8 218.3h.01M284.1 212.5h.01M274.4 210.2h.01M281.5 198.1h.01M278.2 143.1h.01M284.5 233.8h.01M275.6 220.8h.01M289.3 195.1h.01M277.9 175.3h.01M276.2 182h.01M283.4 188h.01M275.5 181.6h.01M285.6 214.2h.01M282.4 219.8h.01M282 208.7h.01M287 206.2h.01M284.7 182.4h.01M293.5 149.6h.01M288.8 216.7h.01M278.1 214.1h.01M288.1 211.4h.01M287.7 171.5h.01M293.6 165.7h.01M282.7 131.3h.01M280.2 154.8h.01M273.6 192.8h.01M287.7 156.5h.01M285.4 187.9h.01M288.2 185.9h.01M285.2 219.6h.01M286.6 214h.01M284.2 216.7h.01M287.4 158.2h.01M281.2 170.3h.01M275.4 161.9h.01M283.1 197.5h.01M291.5 201.8h.01M275.6 179.3h.01M283.2 195.6h.01M294 207.5h.01M271.8 147.2h.01M293.5 164h.01M285.9 167.5h.01M281.9 207.5h.01M281.5 178.9h.01M291.1 170.4h.01M282.2 166.8h.01M284 170h.01M278.9 182.3h.01M293 226.4h.01M283.9 208.9h.01M291.1 204h.01M282.5 155h.01M278.1 180.7h.01M281.4 181.4h.01M281.1 175.5h.01M285.5 208.7h.01M282.2 204.3h.01M276.9 178.2h.01M293.5 237.7h.01M277.3 214.7h.01M287.6 198.6h.01M277.4 228.9h.01M290.9 176.2h.01M281.4 196.6h.01M280.6 138.3h.01M283.9 220.3h.01M284.2 206.9h.01M273.7 150.2h.01M293.8 205.3h.01M290 183.1h.01M277.8 190.9h.01M282.7 175.5h.01M290.5 188.7h.01M271.9 175.9h.01M272.8 189.8h.01M293.3 204h.01M286.1 163.5h.01M292 170.1h.01M286.7 219.8h.01M282.4 190.1h.01M274.1 166.2h.01M276.1 164.7h.01M282.6 205.7h.01M284.8 184.5h.01M273.7 211.7h.01M282.9 190.8h.01M287 174.7h.01M284.8 186h.01M288.4 151.6h.01M293.9 167.9h.01M281.8 192.4h.01M273.5 208.3h.01M286.1 192.8h.01M273.5 186.1h.01M283.8 187.5h.01M288.8 184.8h.01M281.6 172.2h.01M293.9 167.7h.01M285.6 159.8h.01M287.4 222.8h.01M290.4 180.6h.01M289.1 187.3h.01M273.9 211.3h.01M275.8 169.9h.01M284.2 169h.01M281.3 205.2h.01M289.9 129.6h.01M288.8 164.4h.01M282.7 201.7h.01M286.4 202.8h.01M292.3 183.7h.01M283.4 200.6h.01M279.6 213.2h.01M271.8 227.2h.01M282.4 162.9h.01M288 206.7h.01M277.3 192.9h.01M285 208.2h.01M281.3 180.3h.01M289.2 203h.01M284 217.3h.01M277.3 167.3h.01M278.3 172.8h.01M288.2 163h.01M275.1 201.5h.01M276.6 200.9h.01M274.5 201.4h.01M293.2 134.6h.01M279.9 182.8h.01M286.5 148.7h.01M272.6 188.3h.01M276.8 190.7h.01M289.1 201.6h.01M283 189.7h.01M289.6 211h.01M275.8 217.5h.01M273.1 211.4h.01M285 179.4h.01M281.9 161.8h.01M286.1 214.2h.01M280.8 217.6h.01M291.3 173.9h.01M293.7 219.1h.01M287.1 170.3h.01M284 232.1h.01M286.4 191.6h.01M277.2 179.4h.01M285.2 217.2h.01M281.2 213.5h.01M287.2 190.3h.01M291.5 169.2h.01M281.7 201.4h.01M281.2 170.8h.01M288.8 221.8h.01M289.7 224.7h.01M281.7 202.6h.01M281.6 261.8h.01M290.2 205.1h.01M281 210.5h.01M279.8 221.9h.01M271.9 203h.01M292.9 197.1h.01M274.7 162h.01M289.3 133.4h.01M277.9 232.6h.01M273.2 137.4h.01M278.3 185.2h.01M290.1 154.9h.01M290.3 206.6h.01M273.7 178h.01M280.1 163.4h.01M278.1 240.7h.01M286.6 190.5h.01M272.9 178.8h.01M284.6 175.9h.01M281 227.7h.01M292.6 213.4h.01M291.2 197.7h.01M275.7 225.6h.01M285.1 200.6h.01M293 159.3h.01M292.8 195.3h.01M282.1 199.1h.01M285.7 179.4h.01M290.8 148.5h.01M282.2 211.1h.01M282.1 198.2h.01M275 212.7h.01M277.3 163.7h.01M283.4 187.2h.01M288.1 187.5h.01M285.3 238.6h.01M286.4 158.9h.01M279.4 204.6h.01M290.6 136.4h.01M286.9 189.3h.01M275.6 126.4h.01M280.3 193.5h.01M280.1 207.1h.01M275.2 204.5h.01M280.6 170.1h.01M279.6 152.4h.01M287.6 165.5h.01M291.3 256.4h.01M287.4 160.3h.01M292.5 160h.01M280.9 241.2h.01M279.8 200.1h.01M279 197.3h.01M288.5 194.1h.01M273.3 194h.01M290.5 218.8h.01M285.8 177.5h.01M276.9 168.2h.01M285.4 160.3h.01M281.7 248.5h.01M277.7 157.4h.01M279.4 216.3h.01M277.1 129.7h.01M292.7 230.3h.01M273.4 200.4h.01M282.7 212.1h.01M287.1 154.4h.01M272.8 197.1h.01M275.6 202.1h.01M278.1 197.4h.01M274.2 175.9h.01M288.6 159.8h.01M275.2 186.5h.01M273.4 156.2h.01M274.8 167.8h.01M289.2 214h.01M283 190.4h.01M272.2 217.2h.01M290 195.5h.01M274 230h.01M281.3 159.9h.01M273.3 206.7h.01M292.6 195.5h.01M283.8 239.5h.01M282.3 195.6h.01M275.5 227.5h.01M286.8 209.8h.01M272.6 214.1h.01M288.7 195.3h.01M282.4 179.3h.01M283.3 202.2h.01M278.1 146.7h.01M273 193h.01M272.4 190.7h.01M283.8 138.8h.01M292.7 204.7h.01M274 230.7h.01M281.4 201.6h.01M286.2 212.6h.01M279.3 209.2h.01M282.6 202h.01M281.2 206.7h.01M277.1 200.6h.01M287.7 193.2h.01M293.9 176.6h.01M285.3 165.7h.01M293.3 196.3h.01M280.3 237.1h.01M272.2 227h.01M282.1 164.6h.01M288 196.3h.01M290.9 158.2h.01M273.4 232.4h.01M286.4 193.5h.01M282.6 158.6h.01M283.1 207.4h.01M276 205.9h.01M289.4 183h.01M285.4 199.1h.01M290.2 192.5h.01M292.9 201.5h.01M275.7 205.4h.01M275.3 221.2h.01M277.6 193.3h.01M272.5 185.5h.01M286.1 176.9h.01M292.9 201.9h.01M281.1 209.2h.01M286.2 250.3h.01M282.1 175.3h.01M278.5 192.6h.01M273.2 235.3h.01M285.1 196.7h.01M274.2 235.5h.01M289.5 192.3h.01M285.6 208.2h.01M279.8 198.6h.01M288 199.7h.01M280.9 186h.01M290.7 187h.01M273.5 204.9h.01M272 71.3h.01M277.5 317.8h.01M293 346.2h.01" stroke="#aea526" stroke-width="2.75" stroke-linecap="round" fill="none"/>
<path d="M282.8 68.7l1.4 2.5l-1.4 2.5l-1.4 -2.5z" fill="#2b2b2b"/>
<path d="M282.8 315.5l1.4 2.5l-1.4 2.5l-1.4 -2.5z" fill="#2b2b2b"/>
<path d="M282.8 343.8l1.4 2.5l-1.4 2.5l-1.4 -2.5z" fill="#2b2b2b"/>
<path d="M166.1 39.7V24.5H282.9V39.7" fill="none" stroke="#222" stroke-width="1.3"/>
<text x="224.9" y="19.3" font-size="10.6" text-anchor="middle" textLength="131.2" lengthAdjust="spacingAndGlyphs" fill="#111" stroke="#111" stroke-width="0.05">adjusted p-value=0.043</text>
<rect x="448.4" y="8.4" width="232.9" height="354.1" fill="#fff" stroke="#5a5a5a" stroke-width="0.9"/>
<path d="M446.2 36.2L448.4 36.2" stroke="#5a5a5a" stroke-width="0.9"/>
<text x="443.4" y="42.5" font-size="16.3" text-anchor="end" textLength="45.8" lengthAdjust="spacingAndGlyphs" fill="#111" stroke="#111" stroke-width="0.12">0.006</text>
<path d="M446.2 98.7L448.4 98.7" stroke="#5a5a5a" stroke-width="0.9"/>
<text x="443.4" y="105" font-size="16.3" text-anchor="end" textLength="45.8" lengthAdjust="spacingAndGlyphs" fill="#111" stroke="#111" stroke-width="0.12">0.004</text>
<path d="M446.2 161.1L448.4 161.1" stroke="#5a5a5a" stroke-width="0.9"/>
<text x="443.4" y="167.4" font-size="16.3" text-anchor="end" textLength="45.8" lengthAdjust="spacingAndGlyphs" fill="#111" stroke="#111" stroke-width="0.12">0.002</text>
<path d="M446.2 223.6L448.4 223.6" stroke="#5a5a5a" stroke-width="0.9"/>
<text x="443.4" y="229.9" font-size="16.3" text-anchor="end" textLength="45.8" lengthAdjust="spacingAndGlyphs" fill="#111" stroke="#111" stroke-width="0.12">0.000</text>
<path d="M446.2 286.1L448.4 286.1" stroke="#5a5a5a" stroke-width="0.9"/>
<text x="443.4" y="292.4" font-size="16.3" text-anchor="end" textLength="59.2" lengthAdjust="spacingAndGlyphs" fill="#111" stroke="#111" stroke-width="0.12">−0.002</text>
<path d="M446.2 348.5L448.4 348.5" stroke="#5a5a5a" stroke-width="0.9"/>
<text x="443.4" y="354.8" font-size="16.3" text-anchor="end" textLength="59.2" lengthAdjust="spacingAndGlyphs" fill="#111" stroke="#111" stroke-width="0.12">−0.004</text>
<text x="359.5" y="188.3" font-size="16.3" text-anchor="middle" textLength="115.2" lengthAdjust="spacingAndGlyphs" transform="rotate(-90 359.5 188.3)" fill="#111" stroke="#111" stroke-width="0.12">Regulation of</text>
<text x="377.8" y="186" font-size="16.3" text-anchor="middle" textLength="220.5" lengthAdjust="spacingAndGlyphs" transform="rotate(-90 377.8 186)" fill="#111" stroke="#111" stroke-width="0.12">adaptive immune response</text>
<path d="M506.7 362.4L506.7 364.6" stroke="#5a5a5a" stroke-width="0.9"/>
<text x="505.8" y="379.8" font-size="16.3" text-anchor="middle" textLength="118.4" lengthAdjust="spacingAndGlyphs" fill="#111" stroke="#111" stroke-width="0.12">Cluster 1&amp;2&amp;4</text>
<path d="M623.2 362.4L623.2 364.6" stroke="#5a5a5a" stroke-width="0.9"/>
<text x="622.3" y="379.8" font-size="16.3" text-anchor="middle" textLength="73.5" lengthAdjust="spacingAndGlyphs" fill="#111" stroke="#111" stroke-width="0.12">Cluster 3</text>
<path d="M506 102.4L506 173.8" stroke="#666" stroke-width="1.1"/>
<path d="M506 224.8L506 301.4" stroke="#666" stroke-width="1.1"/>
<path d="M482.4 102.4L530.2 102.4" stroke="#4a4a4a" stroke-width="1"/>
<path d="M482.4 301.4L530.2 301.4" stroke="#4a4a4a" stroke-width="1"/>
<rect x="459.7" y="173.8" width="93.2" height="51" fill="#bd8181" stroke="#4a4a4a" stroke-width="1.1"/>
<path d="M459.7 198.3L552.9 198.3" stroke="#4a4a4a" stroke-width="1.1"/>
<path d="M515.1 252.2h.01M504.6 142.5h.01M507 166.1h.01M505.1 177h.01M500.1 175.5h.01M497.1 209h.01M511 195.6h.01M511.6 249.7h.01M503.2 171.1h.01M508.3 119.5h.01M509.9 168.7h.01M503.3 291.8h.01M512.2 287.3h.01M509.9 241.4h.01M502.2 152.3h.01M511.2 151.5h.01M508.4 170.5h.01M499.2 264.3h.01M499.1 176.1h.01M499.5 238.2h.01M497.7 118.9h.01M501.3 187.5h.01M508 190.7h.01M503.4 180h.01M501.6 237.8h.01M507.4 226.9h.01M500.9 119.6h.01M511 132.4h.01M513.7 145.8h.01M515.7 194.1h.01M508.4 138h.01M517 171h.01M496.4 208.5h.01M513.3 207.7h.01M510.5 193.3h.01M516.4 112.3h.01M507.2 213h.01M502.9 118.4h.01M517 204.6h.01M496.8 221.3h.01M505.6 176.5h.01M516.4 161.5h.01M507 193.8h.01M498.9 176.5h.01M500.8 283.9h.01M504.6 222.6h.01M502.8 156h.01M515.1 229.2h.01M510.5 158.5h.01M504.4 293.3h.01M509.5 230.5h.01M500.5 283.9h.01M512.4 212.6h.01M507.6 150.9h.01M497.6 284.8h.01M509.3 226.6h.01M513.8 229.3h.01M500.7 144.8h.01M507.7 179.9h.01M507.3 204.5h.01M505.7 192.8h.01M505.2 136.8h.01M503.6 199.5h.01M512.7 202.8h.01M499.7 137.5h.01M510.4 122.9h.01M504.6 174.1h.01M497 151.8h.01M510.6 215.9h.01M507.2 251.2h.01M501.8 254.2h.01M515.3 219h.01M514.5 113.8h.01M506.3 147.5h.01M508.7 186.4h.01M501.7 270h.01M501.9 217.6h.01M516.6 158h.01M504.5 224.6h.01M513.4 158.4h.01M500.9 259.5h.01M501.4 190.1h.01M501 169.9h.01M514.2 180.6h.01M505.5 222h.01M497.8 199h.01M514.4 246.5h.01M500.9 219.7h.01M517.1 177h.01M509.3 228h.01M501.3 113.9h.01M503.3 175.4h.01M497.2 142.8h.01M511.7 125.2h.01M501.7 256.5h.01M496.9 154.1h.01M498.9 137.8h.01M517 234.5h.01M495.6 172.5h.01M508.8 214.8h.01M505.6 148.2h.01M511 138.4h.01M513.5 273.8h.01M508.6 233.9h.01M498.1 234.8h.01M497.2 222h.01M504.7 178.2h.01M502.2 224.4h.01M514.4 242.3h.01M504.9 239.4h.01M511.8 244h.01M515.9 145h.01M517.1 236.9h.01M517.1 105.2h.01M512.5 166h.01M513.8 164.3h.01M511.4 151.6h.01M512.1 186.7h.01M504.2 231.1h.01M496.4 205.9h.01M513.6 219.1h.01M508.3 151.8h.01M502.2 229.8h.01M510.2 180h.01M513.5 226.7h.01M508 188.6h.01M509.1 139.9h.01M504.7 210.8h.01M517.1 282.9h.01M509.9 266.9h.01M514 214.4h.01M503.9 191.2h.01M495.9 210.9h.01M503.9 187.4h.01M511 120.1h.01M510.1 211.2h.01M508.6 202.8h.01M496.6 169.5h.01M507.3 248.1h.01M497.9 229.2h.01M498.4 148.7h.01M509.5 176h.01M511.9 223.2h.01M508.7 135.9h.01M502.9 230.1h.01M517 204.9h.01M506.2 203.2h.01M507.4 159.3h.01M516.7 188.4h.01M495.6 237.8h.01M515.3 182.8h.01M498.6 259.5h.01M510.1 242.4h.01M516.9 115.7h.01M497.6 127.9h.01M497 189.4h.01M513 216h.01M509.3 221.4h.01M508 237.1h.01M517.4 201.5h.01M499.6 258.4h.01M511.6 277.3h.01M513.5 200.7h.01M499.1 217.1h.01M510 195.1h.01M498.3 181.8h.01M513.3 198.2h.01M512.1 198.7h.01M513 255.8h.01M509.4 225.2h.01M503.1 143.3h.01M508.2 132.3h.01M504.4 206.8h.01M502.4 186.5h.01M510.2 214.5h.01M499.8 268.4h.01M513.2 257.8h.01M498.3 191h.01M508.2 224.4h.01M504.7 132.6h.01M506.5 208.8h.01M507.2 177.1h.01M508.4 253.4h.01M513.9 119.5h.01M501.1 234.6h.01M511.2 271.4h.01M516.5 251.6h.01M506.5 176.8h.01M503.2 211.5h.01M517.2 182.8h.01M512.3 143.8h.01M503.4 169h.01M515 177.3h.01M507.5 226.2h.01M500.7 191.4h.01M517.3 135.6h.01M512.5 183.1h.01M507.7 201h.01M509.4 226.4h.01M496.3 195.6h.01M515.9 251.2h.01M505.5 206.3h.01M512.6 119.7h.01M504.7 209.8h.01M505.9 180.5h.01M510.1 185.6h.01M503.6 246.1h.01M514.9 201.9h.01M516.3 228.4h.01M512.6 104h.01M510.7 184.4h.01M512.4 136.8h.01M509.2 150.1h.01M509.3 225.2h.01M501.8 174.6h.01M507 210.9h.01M509.4 215.6h.01M516.3 247.4h.01M504.1 245.2h.01M504.2 203h.01M502.7 264h.01M502.7 194.5h.01M501.9 192.7h.01M503 149.9h.01M515.9 171.4h.01M514.1 185h.01M501.3 268.9h.01M500.2 149.2h.01M517.2 154.3h.01M500.6 288.5h.01M497.2 152.8h.01M500.9 250.5h.01M515.9 251.9h.01M517.1 125.9h.01M517.2 211h.01M511.8 151.8h.01M511.5 135.8h.01M508.3 230.9h.01M514.2 147.4h.01M502.2 154.1h.01M512.9 183.7h.01M497.7 185.8h.01M497.7 187.1h.01M503.1 287.7h.01M497.4 160.2h.01M507.9 219.6h.01M511.9 236.8h.01M509 274.3h.01M514.2 177.1h.01M511.9 190.5h.01M512.4 210.2h.01M512.7 142.4h.01M513.6 210.1h.01M507.3 291.1h.01M505.8 207.8h.01M511.4 209.8h.01M505 118.2h.01M500.3 247.2h.01M499.4 145.3h.01M496 245.3h.01M497.6 152.9h.01M517.3 242.6h.01M513.2 268.3h.01M500.9 241.1h.01M508.9 228.1h.01M504.9 202.8h.01M499.7 192.6h.01M503.8 221.9h.01M516.7 149.2h.01M514.5 198.1h.01M500.2 159.7h.01M500.5 115.9h.01M499.6 224.8h.01M497.1 229.3h.01M515.6 184.6h.01M496.1 170.3h.01M511.3 231h.01M495.2 207h.01M495.7 253.3h.01M504.4 141.4h.01M509.2 224.2h.01M496.9 149.2h.01M512.4 173.1h.01M498.1 227.3h.01M497 172.2h.01M500.7 181h.01M514.2 185.5h.01M507 182.8h.01M513.3 256.3h.01M496.2 197.4h.01M495.3 129.8h.01M506.5 178.5h.01M495.2 265.3h.01M504.1 265.2h.01M495.9 223.2h.01M512 139.8h.01M510.1 139.8h.01M513.8 214.9h.01M506.1 148.9h.01M497.1 273.1h.01M510.8 172.9h.01M502.2 288.3h.01M502.1 131.9h.01M512.7 209.2h.01M515.4 192.8h.01M496.4 163.2h.01M508 165.4h.01M510.6 234.1h.01M497.2 170.7h.01M506.6 218.2h.01M497.6 190.4h.01M497.2 148.4h.01M501.1 213h.01M503.8 205.1h.01M515.3 126.2h.01M495.9 149.4h.01M511.5 188.1h.01M496.5 226.8h.01M500.9 201.8h.01M514.4 176.2h.01M512.6 160.6h.01M511.7 140.9h.01M516.6 111.7h.01M511.4 170.6h.01M495.7 203.5h.01M500.4 177.1h.01M500 142.6h.01M515.7 232.3h.01M508.2 156.8h.01M499.4 271h.01M513.1 225.2h.01M505.2 191.5h.01M507.3 287.1h.01M509.6 150.8h.01M516.4 174.3h.01M512.1 163.6h.01M514.3 225.4h.01M502.5 127.7h.01M514.7 216.2h.01M505.4 136.3h.01M514.9 192.2h.01M498.8 222.1h.01M495.9 221h.01M503.5 197.4h.01M500.1 283.2h.01M506.9 228.5h.01M502.8 209.9h.01M500.7 229.8h.01M502.6 131.3h.01M498.5 243.7h.01M502.2 212h.01M506.1 162.4h.01M511.2 185.5h.01M504.8 226.3h.01M508.6 250.1h.01M499.2 223.6h.01M512.7 235.2h.01M508.5 231.3h.01M499.1 120.6h.01M510.6 173.9h.01M497.2 196.5h.01M501.8 200.5h.01M509.1 219.3h.01M517.5 147.5h.01M511.4 191.9h.01M507.9 279.8h.01M513.3 130.8h.01M510.8 225h.01M512.2 159.2h.01M504.6 208.4h.01M502.3 224.5h.01M511.9 195.8h.01M498.3 174.7h.01M510.9 204.3h.01M509.1 191.1h.01M517.4 142.8h.01M510.9 198.6h.01M495.6 286.2h.01M495.6 203.8h.01M509.4 163.4h.01M511.9 237.2h.01M500.4 223.5h.01M500.4 203.2h.01M514.2 175.1h.01M514.6 277.5h.01M510.1 193.7h.01M496.9 280h.01M510.4 284.7h.01M503.1 146.4h.01M511.3 160.6h.01M501.1 270.7h.01M514 228.7h.01M506.6 262.6h.01M499.8 128.9h.01M508.1 231.8h.01M502.4 176.4h.01M517.5 135.3h.01M513.9 245.4h.01M503.5 127.1h.01M503.5 228.5h.01M505 217.3h.01M498.7 212.4h.01M509.7 254.6h.01M505.1 257.4h.01M514.6 204.6h.01M506.4 238.9h.01M504.1 257.4h.01M504.9 264h.01M496.7 166.4h.01M496.2 195.7h.01M503.2 182.8h.01M499.6 237.1h.01M500.4 161.5h.01M501 236.5h.01M506.1 185.5h.01M495.4 197.2h.01M505.2 215.7h.01M503.3 144.8h.01M516.9 240.8h.01M514 237.7h.01M496 280.2h.01M503.9 169.6h.01M515.3 118.1h.01M509 149.2h.01M507.1 275.9h.01M505.4 150.5h.01M498.4 164.6h.01M501.9 121h.01M501.8 191.3h.01M496.1 194.1h.01M495.5 242.5h.01M505.5 190h.01M507.3 206.6h.01M502.6 164.4h.01M516.9 161.1h.01M508.2 192.8h.01M500.7 127.8h.01M501.3 235.5h.01M505.3 207.7h.01M517.2 165h.01M512.4 188.8h.01M502.5 278.7h.01M515.2 173.3h.01M505.3 233h.01M504 180.4h.01M502.9 217.6h.01M498.2 179.4h.01M504.3 293.6h.01M498.1 190.3h.01M496.8 182.8h.01M515.4 215h.01M509.7 149.9h.01M502.3 195.7h.01M504.4 241.9h.01M501.3 197.6h.01M515.9 189h.01M500.3 144.2h.01M512.2 180.5h.01M511.4 142.4h.01M505.5 184.9h.01M495.6 135.7h.01M515.9 119h.01M514.5 156.9h.01M503.4 290h.01M508.2 236.9h.01M503.6 237.5h.01M507.7 173.3h.01M496.7 231.5h.01M503.1 104.7h.01M503.5 162.4h.01M498.6 121.4h.01M507.3 205.6h.01M501.2 264.2h.01M501.3 191.6h.01M507.5 137.3h.01M510.6 220.8h.01M512.7 198.2h.01M506 229h.01M517.3 173.9h.01M514.1 164.4h.01M509.4 151.8h.01M504 231.2h.01M503.1 204.4h.01M517 258.3h.01M513.4 212.5h.01M497.3 198.7h.01M499.9 208.6h.01M505.2 146.4h.01M509.7 253.9h.01M510.5 176.7h.01M497.7 164.8h.01M502.6 187.5h.01M495.5 289.8h.01M513.3 173.3h.01M514.1 154.2h.01M517.2 132.6h.01M501.6 213.1h.01M504.9 206.1h.01M514.8 256.8h.01M509.7 175.2h.01M499.8 188.8h.01M507.3 248.6h.01M503 227.6h.01M503.2 164.5h.01M498.8 220.2h.01M509.5 205h.01M495.6 173.6h.01M514.2 194.6h.01M502.7 110.8h.01M509.7 207.1h.01M509 286.4h.01M502.6 197.6h.01M500.9 241.1h.01M507.2 191.7h.01M499.4 141h.01M499.9 189.3h.01M498.6 193.1h.01M507.1 262.7h.01M509.6 259.6h.01M511.9 215.4h.01M512.3 189.6h.01M510.4 173.6h.01M510.9 165.2h.01M503.8 174h.01M507.4 157.6h.01M503.6 187h.01M515.8 223.3h.01M512.7 185.3h.01M509.1 171.5h.01M496.5 251.6h.01M509.5 190.6h.01M515.9 203.4h.01M506.2 146.6h.01M501.5 234.2h.01M509 170.9h.01M495.2 203.6h.01M504 222h.01M498.7 165.5h.01M506.4 142.2h.01M502.3 177.9h.01M509.9 202h.01M500.5 154.8h.01M507 194.7h.01M496.7 122.4h.01M501.8 184.3h.01M507.4 219.3h.01M498.5 278h.01M509.8 176.4h.01M510.8 188.2h.01M512.5 176.9h.01M499.6 188.8h.01M508 190.7h.01M495.5 175.2h.01M503.7 202.9h.01M513.4 286h.01M508 160.9h.01M514.2 124h.01M514.5 175.4h.01M500.8 280.5h.01M511.9 169.5h.01M506.7 192.8h.01M495.7 253.4h.01M515.9 196.4h.01M506.2 256.9h.01M515 225.6h.01M513 258h.01M498.5 188.3h.01M502.6 167.6h.01M498.5 258.8h.01M495.2 238.8h.01M513.6 202.5h.01M512.2 200h.01M500.5 287.7h.01M500.9 138.9h.01M497.4 270h.01M496.4 184.4h.01M511.8 191.3h.01M505.6 202h.01M505.5 105.8h.01M507.4 222.5h.01M495.6 210.9h.01M517.3 234.2h.01M507.2 282.2h.01M496.8 222.1h.01M516.8 170.4h.01M513.4 177.3h.01M516.8 212.5h.01M506.5 147.9h.01M498.9 222.8h.01M507.9 144.4h.01M497.6 145.8h.01M496 173.1h.01M498.7 196.8h.01M504.1 256h.01M501.3 163.8h.01M505.9 228.3h.01M505.7 145.6h.01M509.2 239.6h.01M501.2 266.6h.01M500 108.3h.01M512.4 285.3h.01M509.9 191.8h.01M515.6 111.9h.01M498 197.5h.01M498.1 187.4h.01M498.4 166.5h.01M505.5 273.2h.01M507.2 199.6h.01M516.9 233.4h.01M511 282h.01M501.7 215.1h.01M499.5 198.3h.01M498 123.1h.01M502.7 218.4h.01M517 258.6h.01M502.6 166.5h.01M515.4 214.4h.01M506.4 246h.01M511.3 191.9h.01M512 262.3h.01M509 239.2h.01M511.1 165.2h.01M506.1 236.8h.01M506.6 223.8h.01M496.6 229.9h.01M496.6 169.7h.01M503.5 187.1h.01M516.8 181.5h.01M510.6 285.3h.01M516 136.2h.01M513.2 269.1h.01M496.9 297.7h.01M502.8 196.6h.01M517.2 266.5h.01M506.9 297.4h.01M510.7 229.3h.01M497.2 141.7h.01M503.8 197.2h.01M514 202.6h.01M514.5 125.5h.01M505.3 261.3h.01M506.7 247.8h.01M500 173.5h.01M495.6 236.8h.01M507.9 158.7h.01M496.5 141.7h.01M499.3 174.2h.01M517.3 277.6h.01M512.3 177.4h.01M506.7 177.1h.01M507.4 245.7h.01M495.4 106.4h.01M510.6 216.8h.01M516 218h.01M504 298.6h.01M499.4 229.1h.01M514.8 180.5h.01M502.4 203.2h.01M512.2 289.6h.01M502.1 142.1h.01M501.9 192.9h.01M516.5 194.8h.01M510.1 198.9h.01M515.3 149.3h.01M507.5 200.7h.01M501 259h.01M508.7 229.9h.01M511.3 193h.01M495.7 187.5h.01M515.5 168.1h.01M502 215.1h.01M510.7 208.1h.01M499.2 241.6h.01M517.1 193.4h.01M515.3 160.8h.01M516.1 290.8h.01M498.3 119.1h.01M502.9 223.2h.01M502 221.3h.01M500 188.1h.01M502.6 135.2h.01M512.5 174.5h.01M501.6 169.1h.01M495.8 175.6h.01M500.7 203.1h.01M504.1 240.2h.01M511.9 202.5h.01M514.8 217.4h.01M503.2 229.3h.01M512.1 239.9h.01M508.1 218.3h.01M496.9 228.4h.01M501 198.3h.01M504.2 133.8h.01M496.8 287.8h.01M498 162.9h.01M506.3 214.9h.01M502.9 189.2h.01M506.4 212.8h.01M505.5 161.6h.01M512.4 230.8h.01M513.6 183.8h.01M506.7 195.4h.01M514 212.5h.01M500.8 229.7h.01M514.6 189.5h.01M506.4 180.1h.01M502.8 195h.01M511.6 241.4h.01M506.9 191.7h.01M505.7 227.6h.01M508 215.1h.01M514.3 193.8h.01M503.5 199.4h.01M501.8 172.7h.01M497.1 162.5h.01M506.7 216.6h.01M497.6 212.5h.01M508.6 179.3h.01M497.8 222.5h.01M506.7 169.6h.01M496.5 232.1h.01M512.8 186.2h.01M498.9 217.4h.01M513.4 201.7h.01M502 165.5h.01M502.8 196h.01M499.3 185.3h.01M495.4 201.5h.01M496.1 205.2h.01M510.4 191.2h.01M508.6 184.4h.01M516.7 203.8h.01M506.5 192.2h.01M496.3 185.6h.01M514.8 240.1h.01M497.7 221.4h.01M505.2 226.3h.01M499.3 208.9h.01M510.4 209.9h.01M497.1 207.5h.01M502.7 149.5h.01M504.3 198.3h.01M495.5 227h.01M513.5 201h.01M501.6 177.6h.01M501.4 201.5h.01M507.7 215h.01M508.8 224.5h.01M507.1 200.4h.01M509.2 168.4h.01M498.1 243.6h.01M506.6 252.8h.01M503.4 211h.01M500.6 206.8h.01M501.1 236h.01M505.5 209.3h.01M517.3 191.7h.01M515 173.9h.01M499.2 213.4h.01M514.9 181.2h.01M505.2 191.8h.01M504.1 202.1h.01M513.7 196.1h.01M503.4 161.8h.01M500.6 164.6h.01M510.5 202.6h.01M508.1 181.4h.01M499.3 179.5h.01M514.3 179.5h.01M499.7 183.5h.01M499.3 232.4h.01M503.5 192.7h.01M507.7 169h.01M509.2 231.4h.01M503.1 180.3h.01M496.4 197.9h.01M510 231.4h.01M508.8 188.1h.01M500.6 246.2h.01M501.8 202.1h.01M514.6 197h.01M505.4 177.8h.01M503.8 174.1h.01M508.9 213.8h.01M503 170.7h.01M506 192.5h.01M509.7 229.4h.01M495.2 178.3h.01M503.5 224.2h.01M499.3 202.4h.01M500.9 192.9h.01M502.5 213.2h.01M498.6 174.2h.01M499.9 213.4h.01M495.2 215h.01M500.6 155.2h.01M508.3 200.4h.01M513.9 209h.01M507.7 236h.01M514.9 189h.01M511.4 165.8h.01M510.9 205.1h.01M509.7 186.6h.01M504.4 221.2h.01M502.6 169.8h.01M507.3 234.7h.01M500.1 158.1h.01M505.9 202h.01M513.2 181.3h.01M499.1 189.1h.01M516.5 230.1h.01M504.7 226.6h.01M509.7 174.1h.01M512.2 189.5h.01M504.9 192.9h.01M511.5 205.8h.01M517.1 205.1h.01M502.5 153.5h.01M510.1 204.6h.01M516.5 203.5h.01M515.9 194.9h.01M495.2 220.5h.01M504.3 206.8h.01M501.2 202h.01M513.3 162.4h.01M507.1 162.5h.01M500.2 183.2h.01M507.4 173.1h.01M500.7 226.7h.01M501.1 251.8h.01M513.1 175.3h.01M503 143.5h.01M508.2 240.7h.01M508.3 179.1h.01M495.2 226.8h.01M499 180.5h.01M507.7 168.4h.01M509.9 246.5h.01M508.2 220.3h.01M512.6 189.2h.01M505.3 182.6h.01M505 209h.01M516.9 199.3h.01M510.1 249.3h.01M496.5 208.3h.01M495.6 206h.01M496 222.5h.01M514.9 221h.01M500.7 212.6h.01M501.9 234.1h.01M507.3 219.9h.01M509.8 206.1h.01M517.4 216.5h.01M500.8 211.7h.01M495.9 221.5h.01M503 207.5h.01M504 227.2h.01M498.7 240.2h.01M506.7 203.9h.01M497.7 204.5h.01M512.6 212.1h.01M502.8 238.6h.01M500.4 191.4h.01M511 227.8h.01M513.5 186h.01M495.4 138.8h.01M496.3 208.7h.01M505.7 224.1h.01M498.7 203.3h.01M512.3 201.8h.01M504 201.7h.01M509.9 148.7h.01M510.2 201.9h.01M501.6 195.2h.01M507.5 234.9h.01M499.4 212.4h.01M515.3 174.2h.01M502.7 158.6h.01M498.5 245.6h.01M506.5 241.9h.01M508 190.4h.01M512.9 234h.01M502.1 210.9h.01M502.2 185.8h.01M514 210.4h.01M509.6 194.1h.01M512.4 209.2h.01M505.1 233.6h.01M497.7 199.9h.01M516.8 181.1h.01M508.7 214h.01M504.8 230.6h.01M510.6 205.8h.01M504.7 199.6h.01M506.7 147.5h.01M495.5 167.8h.01M506.3 197.7h.01M495.2 176.7h.01M510 229.2h.01M502.8 178.3h.01M496.1 201h.01M495.6 212.4h.01M502.2 176.6h.01M515.4 157.7h.01M516.8 204.1h.01M509.7 243.2h.01M510 219.4h.01M504.7 239.3h.01M512.8 202.9h.01M496.6 208.1h.01M516.2 163.5h.01M509.5 211.2h.01M505.2 222.8h.01M497.2 181.6h.01M500 190.9h.01M502.5 211.7h.01M502 207.5h.01M508.2 222.7h.01M513 204.7h.01M505.3 184h.01M517.2 200.8h.01M499.2 204.2h.01M502.4 213.3h.01M512.6 203.3h.01M497.7 269.3h.01M514.7 206.7h.01M515.7 180.1h.01M501.3 210.7h.01M506.9 204.7h.01M509.2 220.1h.01M497 185.5h.01M501.4 216.4h.01M505.3 199.9h.01M509.8 221.3h.01M504.2 242h.01M506 170.4h.01M503.7 192.8h.01M510.2 204.6h.01M504.9 213.1h.01M515.5 221.3h.01M504.9 183h.01M495.3 210.2h.01M503.4 180.6h.01M510.9 184.2h.01M514 181.2h.01M497.8 177.5h.01M508.1 193.8h.01M516.2 175.8h.01M508.6 191.1h.01M513.5 172.2h.01M498.9 151.8h.01M502.6 224.7h.01M504 192.4h.01M504.9 196.8h.01M497.8 244h.01M516.8 237.6h.01M510.5 202.1h.01M497.9 211.6h.01M498.3 165.8h.01M510 182.5h.01M502.2 231.7h.01M508.9 182.2h.01M513 157.7h.01M503.3 170.4h.01M509.2 205.2h.01M500.5 207.5h.01M495.8 186.4h.01M515.1 201.7h.01M497.1 212.4h.01M505 230.5h.01M513 199.8h.01M508.4 208.1h.01M504.5 177.1h.01M513 177.2h.01M512.2 242.2h.01M506.3 217.4h.01M502.3 174.4h.01M509.2 125.9h.01M496.3 190.4h.01M512.8 212.4h.01M501.9 200.3h.01M509 213.4h.01M505.9 243.3h.01M499.4 218.1h.01M501.1 196.2h.01M498.3 224.4h.01M498.6 198.7h.01M506.7 185.7h.01M510.8 186.6h.01M499.2 188.5h.01M502 198.5h.01M498.5 203.7h.01M511.9 226.5h.01M504.9 205.8h.01M508.5 193.4h.01M496.5 205.6h.01M500.4 227.9h.01M496.5 152.7h.01M508.6 194.6h.01M498.5 199.1h.01M497.8 234.8h.01M515.7 227.9h.01M499.4 204.2h.01M503.9 210h.01M499.3 187.5h.01M514.6 247.4h.01M507.1 203.6h.01M501.4 203h.01M497.8 237.7h.01M496.9 216.9h.01M511.6 169.7h.01M501.2 187.5h.01M506 207.3h.01M497.3 248.3h.01M511.9 186.8h.01M513.4 197.7h.01M515.6 163.1h.01M501.8 196.8h.01M499.4 156.3h.01M499.3 209.7h.01M495.8 187.4h.01M495.5 216.1h.01M499 214.8h.01M515.5 232.7h.01M500.5 209.8h.01M509.7 183.4h.01M496.7 194.5h.01M509.3 247.8h.01M509.8 203.3h.01M499 189.2h.01M496.3 141.4h.01M506 164.5h.01M517.2 210.7h.01M496.6 188.8h.01M508.3 178.2h.01M507.7 190.5h.01M505.6 207.1h.01M517.1 230.2h.01M502.4 176.9h.01M517.1 180.8h.01M512.8 228h.01M517.3 197.6h.01M498.6 202h.01M498 204.7h.01M516.5 192.2h.01M504.3 196.5h.01M499.8 198.9h.01M517.2 218.1h.01M496.5 155.7h.01M505.8 172.8h.01M508.8 228.8h.01M498 187.3h.01M500.8 187.2h.01M496.3 211h.01M505.7 192.9h.01M516.5 166h.01M502.1 188.5h.01M506.4 219.7h.01M509.7 202.4h.01M500.2 175.4h.01M510.2 149.7h.01M511.3 215.7h.01M504.5 170.1h.01M509.7 199.3h.01M500.1 194.1h.01M517.5 225.1h.01M497.1 206.5h.01M504.3 235.3h.01M502 235.5h.01M497.1 233.4h.01M507.4 207.5h.01M511.1 247.3h.01M497.8 209.2h.01M497.4 179.5h.01M507.9 186.4h.01M507.4 243h.01M497.1 243.2h.01M500 203h.01M506.2 157.4h.01M511 141h.01M512.6 214.5h.01M504 155.9h.01M512.1 126h.01M502.8 199.9h.01M507.8 137h.01M503.2 220.2h.01M497.8 214h.01M501.9 214.1h.01M507.2 220.1h.01M515.9 179.6h.01M506 215.1h.01M512.9 220.4h.01M503.6 215.9h.01M511.7 218h.01M498.4 211.9h.01M498.9 217.5h.01M514 159.5h.01M507.9 191.4h.01M500.2 175.7h.01M497.3 194.3h.01M514 236h.01M513.3 230.4h.01M501.7 199.2h.01M502.9 158h.01M509 198h.01M502.2 203.5h.01M499.6 216.3h.01M516.7 195.5h.01M509.7 215.4h.01M514.9 194.8h.01M513.5 231.7h.01M514.9 197.5h.01M498.5 230.1h.01M498.6 191.9h.01M507.3 180.5h.01M500 202.9h.01M504.6 183.4h.01M500.6 186.2h.01M515.6 180.3h.01M509.9 208.7h.01M495.6 175.6h.01M498.5 214.3h.01M496.3 187.1h.01M500.6 192.4h.01M499.5 235.5h.01M504.3 196.8h.01M510.8 199.5h.01M497.1 210.4h.01M507.1 155.6h.01M508.6 195h.01M507.9 202.3h.01M502 184.8h.01M515.2 154.3h.01M499.1 201.9h.01M497.8 215.7h.01M505.9 181.2h.01M499.1 215.3h.01M495.8 211.3h.01M517.3 195.2h.01M511.1 169.9h.01M499.7 198.6h.01M514.8 179h.01M512.4 143.7h.01M501.8 196.5h.01M510.9 210h.01M497.5 203h.01M509.4 173.3h.01M516.7 203.6h.01M508.9 161h.01M503.5 225.8h.01M502.2 239.7h.01M516.2 206.5h.01M498.5 241.3h.01M506.2 236.6h.01M507.6 219.6h.01M506.3 199.9h.01M506.7 211.3h.01M503.9 183.9h.01M505.3 198.6h.01M510.3 190.6h.01M498.2 162.8h.01M497.5 159.2h.01M499.3 155.1h.01M496.5 185.1h.01M503 205.2h.01M508 215.9h.01M504.6 210.1h.01M509.3 148.1h.01M511.9 214.9h.01M501.8 225.6h.01M513.8 185.2h.01M505.8 174.7h.01M514 251h.01M516.4 190.1h.01M504.4 207h.01M500.4 235.2h.01M516.9 175.3h.01M500.5 226.8h.01M511.8 183.5h.01M504.9 206.5h.01M501.7 181.5h.01M513.2 228.5h.01M509.3 184h.01M511.8 160.7h.01M514.7 189.6h.01M512 208.8h.01M508.4 178.5h.01M512.6 260.2h.01M506.3 258.5h.01M507.1 195.9h.01M497.9 173.1h.01M495.3 195.9h.01M497.4 208.2h.01M516.8 200h.01M511.5 193.6h.01M495.9 176.6h.01M496.7 180.4h.01M497.3 220.3h.01M506.7 213.8h.01M502 165.1h.01M500.7 162.4h.01M505.3 181.8h.01M516.2 227h.01M513 182.9h.01M509.5 183.5h.01M510.3 211.6h.01M515.8 197.3h.01M505.9 224.5h.01M511.2 178.1h.01M500.1 218.1h.01M509.2 194.5h.01M506.5 167.8h.01M504.8 170.9h.01M496.8 239.7h.01M513.6 208.8h.01M501.2 188h.01M505.5 217.2h.01M514.9 234.2h.01M516.3 218h.01M499.5 178.4h.01M500.6 201h.01M506.1 204.6h.01M512.8 153.4h.01M498.2 221.2h.01M497.2 216.5h.01M511.7 208.3h.01M508.2 187.5h.01M502.9 223h.01M511.8 204.1h.01M511.3 190h.01M517.3 204.2h.01M500 178.6h.01M515.9 208.3h.01M512.1 199.2h.01M498.6 222.3h.01M498.8 203.4h.01M503.2 214.7h.01M507.2 221.4h.01M508.9 187.6h.01M498.1 153.1h.01M506.3 206.4h.01M505.2 188.9h.01M510.9 179.8h.01M503.5 129.7h.01M497.1 225.2h.01M506.7 222.6h.01M503.7 216.1h.01M509.7 210.4h.01M499.5 231.8h.01M503.3 240.4h.01M497 191.2h.01M496.6 206.2h.01M503.5 200.9h.01M506.1 184.1h.01M510.8 197.8h.01M502.3 165.7h.01M504.8 154h.01M496.9 142.4h.01M504.9 167.9h.01M516.1 172.7h.01M512.1 198.8h.01M516.8 208.9h.01M509.2 149.9h.01M515.8 198.9h.01M501.6 191.3h.01M495.4 223.6h.01M497 177.1h.01M498.1 185.5h.01M516.8 217h.01M499.3 193h.01M504.2 227h.01M512.8 209.2h.01M496.6 153.3h.01M503.1 212.5h.01M510.6 246.5h.01M503.5 171.2h.01M497.1 212.9h.01M516.9 264.7h.01M496.2 195.9h.01M514.4 196.6h.01M508.9 217.1h.01M496.3 151.8h.01M516.3 184.1h.01M515.1 201.7h.01M497.1 208.4h.01M500.4 201.5h.01M499.8 185.5h.01M504.9 159.2h.01M502.8 158.4h.01M495.7 172.3h.01M506.3 203.3h.01M512.1 236.5h.01M513.2 219.7h.01M505.7 158.4h.01M507.4 197.6h.01M509.1 219.5h.01M513.3 167h.01M517.1 186.8h.01M508.4 172.8h.01M497.4 198.6h.01M509.5 190.8h.01M505.2 199.6h.01M516 177.6h.01M516.9 252h.01M497.5 194.4h.01M505.9 201.3h.01M513.5 223.3h.01M512 241h.01M500.1 215.2h.01M512 195.9h.01M510.2 202.9h.01M508.1 189.9h.01M500.5 210.4h.01M516.9 224.4h.01M509.9 231.1h.01M495.4 199.2h.01M516.4 188.4h.01M496.1 178.2h.01M504.7 166.5h.01M511.7 209.7h.01M495.5 167.6h.01M514.4 229.1h.01M506.3 228.8h.01M514.4 161.4h.01M513.8 171.8h.01M502.2 186.4h.01M507.6 191.9h.01M495.6 211h.01M510.5 199.7h.01M497.1 218.3h.01M498.6 227.4h.01M501.8 184.6h.01M508.4 211.3h.01M496.1 227.7h.01M508.9 198.5h.01M495.7 227.2h.01M507 192.6h.01M504.5 202.5h.01M500.7 200h.01M513.3 187.2h.01M515 185.3h.01M501.7 176.7h.01M502.5 191.4h.01M503.6 208.8h.01M508.1 184.9h.01M503.9 193.4h.01M501 179.7h.01M504.4 198.4h.01M514.1 223.8h.01M514 207.8h.01M515.8 206.1h.01M501.6 225.2h.01M504.7 208.1h.01M517.4 193.3h.01M505.4 177.4h.01M500.6 201.1h.01M501.4 241.4h.01M517.4 191.1h.01M498.3 157.2h.01M496.7 200.1h.01M509.1 133.9h.01M501 211.1h.01M498.8 199.4h.01M506.4 149.6h.01M514.9 190.6h.01M515.2 184.6h.01M499.7 217.5h.01M497 213.5h.01M496.5 183.8h.01M501.7 184.2h.01M511.2 176.6h.01M516.7 168.8h.01M513.7 174h.01M515.1 158.7h.01M514 221.5h.01M496.3 237.6h.01M516.1 198.4h.01M509.3 247.6h.01M507.4 221.8h.01M503.9 191.6h.01M511.1 239.2h.01M505 174.3h.01M512.1 200.7h.01M506 205.9h.01M500.6 251.6h.01M500.3 141.4h.01M501 157.1h.01M511.4 203.7h.01M501.2 171.6h.01M501.2 219.8h.01M517.5 224.8h.01M503.6 201.4h.01M496 202.9h.01M496.6 220.5h.01M510.8 173.9h.01M503.6 206.5h.01M509.3 189.1h.01M507.1 177.2h.01M504.7 226.6h.01M514.3 189.9h.01M496.4 184.9h.01M514.7 182.6h.01M495.7 216.3h.01M511.9 160.1h.01M503.5 181.4h.01M507.3 184.1h.01M511.7 175.9h.01M509.7 250.4h.01M503.1 177.7h.01M496.6 211.1h.01M496.7 243.3h.01M506.9 200.6h.01M500.9 211.8h.01M516 222.4h.01M501.3 197.5h.01M506.1 206.2h.01M502.5 229.4h.01M500.7 178.2h.01M514.3 193.2h.01M506.9 173.4h.01M498.7 193h.01M499.7 171h.01M513.7 247.8h.01M516.1 215.8h.01M495.8 181.3h.01M515.2 209.4h.01M499.7 189.5h.01M501.3 205.3h.01M498.3 192.9h.01M516.6 217.2h.01M516.3 173.6h.01M504.3 160.7h.01M503.8 206.1h.01M512.1 189.9h.01M510.7 197.7h.01M512.7 185.9h.01M504.6 190.4h.01M504.4 160.5h.01M517.1 210.5h.01M508.9 185.1h.01M510.1 231h.01M496.5 242.7h.01M496 197h.01M497.5 187.6h.01M502.8 214.4h.01M516.1 230.7h.01M516.8 170.5h.01M515.5 190h.01M510.4 177h.01M514.1 229.2h.01M504.4 175.8h.01M515.5 183.2h.01M512.1 143.3h.01M499.9 211.7h.01M495.7 192.6h.01M495.8 167.5h.01M506.5 179h.01M516.4 204.4h.01M507.7 182.4h.01M510.9 162.1h.01M511.2 192.7h.01M500.6 243.9h.01M505 183.5h.01M516 198.9h.01M499 182.8h.01M498.8 215h.01M516.2 167.4h.01M503.2 237h.01M507.2 196.4h.01M497.7 227h.01M515.5 208.6h.01M501.3 214h.01M512.7 198.2h.01M515.8 203.3h.01M505.6 236.1h.01M506 236.6h.01M497.4 183.7h.01M513 203.9h.01M509.5 178.9h.01M514.2 151.3h.01M509.5 197.3h.01M511.2 230.5h.01M499.6 203.4h.01M504 208.6h.01M502.8 200.7h.01M506.9 222h.01M495.4 198.3h.01M501.3 194.5h.01M501.9 226h.01M496.7 210.4h.01M508.6 235h.01M512.6 217h.01M499.4 192.6h.01M510.3 196.5h.01M495.5 228.6h.01M497 210.6h.01M496.8 195.8h.01M515.9 177h.01M514.6 193.2h.01M510 204.7h.01M497.8 216.8h.01M513.1 217.2h.01M498.1 198.4h.01M499.7 178h.01M496.2 171.6h.01M514.4 179.2h.01M497.8 173h.01M509.2 204.1h.01M503.6 164.4h.01M509.2 209.4h.01M495.6 254.7h.01M515.6 178.7h.01M500.8 220h.01M509.7 155.4h.01M505.5 179.4h.01M502.9 181.2h.01M514.1 205.5h.01M512.4 195h.01M504.4 232h.01M508.3 219.2h.01M495.7 173.1h.01M498.6 219.2h.01M503.9 165.6h.01M505.3 168.3h.01M503.1 206.2h.01M509.5 189.9h.01M515.3 177.7h.01M504.4 213.5h.01M500 204.3h.01M513.8 121.2h.01M506.1 166.2h.01M515.3 176.9h.01M508.4 193.8h.01M496.5 196.6h.01M513.7 185.7h.01M497.7 188.7h.01M510.9 212.2h.01M506.4 232.7h.01M501.8 214.8h.01M516.8 168.1h.01M503.1 149.5h.01M513.2 176h.01M495.2 166h.01M497.5 258.9h.01M512.8 198.8h.01M510.8 220.9h.01M495.5 198.9h.01M496.9 260h.01M510.9 159h.01M496.1 208.2h.01M505.5 184.7h.01M516.1 235h.01M512.2 175.7h.01M504.7 195h.01M514.9 181.4h.01M509.5 203.8h.01M515.7 240.9h.01M499.1 257.4h.01M509.1 189.6h.01M496.9 204h.01M511 233.8h.01M511.1 157.5h.01M511.7 167.4h.01M511.1 152.1h.01M510.1 217.6h.01M507.4 196.1h.01M504.1 244.1h.01M508.5 184.9h.01M503.9 183.6h.01M495.7 199.6h.01M513.6 190.8h.01M496.9 202.9h.01M510.1 158.1h.01M507.2 195h.01M496.7 213.5h.01M507.4 196.5h.01M503.4 208.9h.01M502.8 221.3h.01M506.5 181.3h.01M516.3 168.9h.01M499.6 219.9h.01M498.5 226.4h.01M495.4 210.5h.01M504.3 196.4h.01M512.6 154.8h.01M508.8 192.1h.01M506.1 183.6h.01M503.8 161.2h.01M509.3 236.1h.01M498.1 194.2h.01M510 219.8h.01M503.7 146.2h.01M498.5 150.9h.01M506.8 230.4h.01M497.7 168.5h.01M515 221.1h.01M503.6 201.1h.01M511.1 146.6h.01M508.8 196.3h.01M504.8 177h.01M498.1 234.8h.01M503.7 234.3h.01M500.7 201.2h.01M514.2 168.2h.01M512.4 177.2h.01M509.1 176.6h.01M516.9 226.6h.01M503.4 171h.01M512.7 227.6h.01M509.2 185.5h.01M506.7 175.3h.01M506 239.9h.01M503 180.2h.01M496.4 144.8h.01M516.5 214.6h.01M512.8 181.5h.01M508.3 227.6h.01M504.4 146.1h.01M499.1 167.4h.01M495.7 216.9h.01M514.8 182.8h.01M516.7 187.2h.01M514.5 168.9h.01M515 210.6h.01M504.8 182.5h.01M500.1 201.3h.01M512.7 197.7h.01M496.1 204.1h.01M510.6 210.1h.01M505.9 198.9h.01M496.5 207.3h.01M498.3 199.7h.01M502 203h.01M507.5 179.1h.01M506.8 167.4h.01M505.5 202.1h.01M513.6 196.1h.01M503.8 237.6h.01M500.7 196.9h.01M509.1 203.9h.01M512.2 203.6h.01M515.4 191.3h.01M509.8 239.8h.01M504 183.9h.01M510.8 182h.01M517.1 213.9h.01M501.2 164.5h.01M502.7 226.9h.01M497.4 184.6h.01M504.1 222.2h.01M500.9 209h.01M509.2 208.8h.01M498.5 231.3h.01M507.1 226.9h.01M516.3 195h.01M516.7 190.5h.01M495.8 188.9h.01M495.7 225.6h.01M510.3 175.3h.01M510 224.8h.01M509.1 227.2h.01M500.3 223.1h.01M506 176.2h.01M495.8 182.7h.01M501.6 169.3h.01M497.4 240.5h.01M511 204.4h.01M507.1 201.1h.01M501.9 207h.01M501.2 197.8h.01M496.7 197.7h.01M510.4 212.9h.01M512.8 200.3h.01M517 208.4h.01M510.3 210.3h.01M496.7 175.3h.01M506.5 210.2h.01M510.2 179.6h.01M507.5 158.9h.01M497.3 221.3h.01M497.1 221.4h.01M497.6 183h.01M500.6 234.8h.01M517.5 190.9h.01M513.3 266.7h.01M496.9 178.3h.01M496.9 193.2h.01M504.4 226.8h.01M514.9 205.1h.01M511.5 223h.01M516.5 207.2h.01M508.8 173.3h.01M499.2 182.8h.01M500.8 178.6h.01M517 217.3h.01M507.5 206.2h.01M498.1 233.5h.01M510.5 205.7h.01M497 230.9h.01M508.6 88h.01M501.6 95.3h.01M511.8 93.7h.01M515.4 93.4h.01M495.2 315h.01M500.7 341.5h.01M498 305h.01" stroke="#c87779" stroke-width="2.75" stroke-linecap="round" fill="none"/>
<path d="M506.3 85.8l1.4 2.5l-1.4 2.5l-1.4 -2.5z" fill="#2b2b2b"/>
<path d="M506.3 91.2l1.4 2.5l-1.4 2.5l-1.4 -2.5z" fill="#2b2b2b"/>
<path d="M506.3 302.3l1.4 2.5l-1.4 2.5l-1.4 -2.5z" fill="#2b2b2b"/>
<path d="M506.3 307.1l1.4 2.5l-1.4 2.5l-1.4 -2.5z" fill="#2b2b2b"/>
<path d="M506.3 313.5l1.4 2.5l-1.4 2.5l-1.4 -2.5z" fill="#2b2b2b"/>
<path d="M506.3 339.3l1.4 2.5l-1.4 2.5l-1.4 -2.5z" fill="#2b2b2b"/>
<path d="M622.5 83.3L622.5 163.9" stroke="#666" stroke-width="1.1"/>
<path d="M622.5 218.6L622.5 301" stroke="#666" stroke-width="1.1"/>
<path d="M598.9 83.3L646.7 83.3" stroke="#4a4a4a" stroke-width="1"/>
<path d="M598.9 301L646.7 301" stroke="#4a4a4a" stroke-width="1"/>
<rect x="576.2" y="163.9" width="93.2" height="54.7" fill="#41b256" stroke="#4a4a4a" stroke-width="1.1"/>
<path d="M576.2 192L669.4 192" stroke="#4a4a4a" stroke-width="1.1"/>
<path d="M623 208.9h.01M620.8 192.9h.01M631.6 236.1h.01M625.5 141.4h.01M614.2 165.7h.01M623.6 144.4h.01M619.2 215.2h.01M621.6 158.7h.01M625.5 225.9h.01M627.9 140.3h.01M612.3 176.2h.01M622.6 224.4h.01M622.6 218.9h.01M621.3 179.1h.01M620.2 228.8h.01M612.6 217.7h.01M614.9 150.9h.01M633.1 144.6h.01M629.7 88h.01M622.2 245.7h.01M619.3 176.4h.01M619.7 191.1h.01M629.6 141.8h.01M633.7 255.5h.01M617.9 279.5h.01M614.5 238.7h.01M629.9 202.9h.01M631 151h.01M633.3 175.7h.01M626.4 295.5h.01M631.5 134.5h.01M628.6 278.9h.01M625.3 197.7h.01M622 155.2h.01M614.7 192.8h.01M628.2 132.2h.01M632.1 184.6h.01M629.5 247.7h.01M629 232h.01M632.5 174.2h.01M615.2 177.4h.01M620.6 230.3h.01M626.4 118h.01M615.9 147.2h.01M627.4 158.4h.01M624.8 154.9h.01M633.2 161.4h.01M631.1 225.4h.01M630.1 117.5h.01M620.6 217h.01M616.1 209.1h.01M616.6 218.4h.01M614.5 97.5h.01M630.8 231.3h.01M619.9 240.2h.01M613.7 204h.01M613.3 184.8h.01M633.1 296.5h.01M615.9 230.7h.01M613.9 179.1h.01M626.9 179.1h.01M613 278.1h.01M629.7 150.8h.01M628.7 246.3h.01M623.2 173.7h.01M628.8 126.5h.01M632.8 224.7h.01M615.3 225.4h.01M614.7 115.8h.01M615.2 193.2h.01M617.7 190.5h.01M616.7 221.2h.01M617.9 135.2h.01M617.1 256.9h.01M614.7 106.9h.01M612 229.1h.01M626.3 196h.01M623.1 217.7h.01M630.9 132.2h.01M631.1 201.7h.01M624.9 172.6h.01M633.3 162.8h.01M625.2 134.1h.01M615.5 222.6h.01M628.2 186.8h.01M613.5 140.7h.01M617.5 256.5h.01M620.3 225.7h.01M632.7 148.5h.01M619.3 163.4h.01M621.6 214.6h.01M615 252.6h.01M626.7 266.7h.01M626.1 219.8h.01M612.3 171.8h.01M622.7 172.3h.01M633.2 166.5h.01M616.2 230.6h.01M633.4 175.1h.01M621.9 191.4h.01M622 122.4h.01M616.5 223h.01M621 273.9h.01M630.3 92.7h.01M623.9 255.6h.01M623.9 201.6h.01M628.1 164.1h.01M624.8 159.3h.01M615.2 205.8h.01M627.3 215.2h.01M615.1 154.8h.01M620.3 144.7h.01M622.3 220.8h.01M614.8 233.1h.01M623.7 196.8h.01M626.5 181.6h.01M630.3 208h.01M623 229.1h.01M618 158h.01M617.7 203.5h.01M618.4 181.1h.01M628.4 174.6h.01M620 224.6h.01M616.7 164.2h.01M631.5 158.4h.01M617.1 221.4h.01M630.9 184.5h.01M620 133.4h.01M633.9 102.9h.01M615.1 121.9h.01M633.1 190.7h.01M620 153.8h.01M626.5 117.2h.01M612.3 196.9h.01M629.2 246.5h.01M619.8 95.9h.01M632.9 255.5h.01M630.3 224h.01M623.1 158.7h.01M625.5 135.2h.01M623.9 205h.01M615.1 221.2h.01M620.9 160h.01M619.7 91.5h.01M612.6 200.5h.01M612.3 111.9h.01M619.3 153.1h.01M632.6 155.7h.01M626.9 208h.01M630.4 174.7h.01M631.7 158.9h.01M633.7 189h.01M620.2 154.4h.01M614.4 212.5h.01M613.7 185.6h.01M613.7 294.2h.01M632.6 220h.01M631.5 244.4h.01M630.8 193.3h.01M632.4 168.1h.01M624.9 250.5h.01M618 150.2h.01M625.6 167.1h.01M623.3 240.4h.01M621.5 218.3h.01M617 240.7h.01M632.1 170h.01M612.6 258.1h.01M621.5 284.6h.01M632.2 262.7h.01M625.5 186.1h.01M622.4 207.8h.01M624.8 176.8h.01M612.7 175.8h.01M618 159.6h.01M619.1 222.2h.01M629.3 163.6h.01M630.1 235.6h.01M627.2 213.4h.01M627.2 249h.01M633.4 280.1h.01M614.9 259h.01M625.7 279.9h.01M633.6 146.2h.01M628.6 204.9h.01M626.8 225.1h.01M621.2 300.9h.01M621.1 194.1h.01M627 121.6h.01M620.8 175.2h.01M627.9 170h.01M618.9 186.6h.01M620.5 263h.01M632.9 128.7h.01M620.8 207.3h.01M632.7 167.2h.01M614.3 168.4h.01M619.3 189.1h.01M623.4 222.1h.01M632.5 100.2h.01M627.7 266.2h.01M626.1 150.3h.01M615.2 240.1h.01M629.1 182.8h.01M628.5 166.1h.01M630.2 210.1h.01M632.8 217.7h.01M618.8 241.1h.01M619.3 231.5h.01M618.6 158.2h.01M626.7 127h.01M628.6 147.5h.01M631.4 257.5h.01M617.1 249.8h.01M619.2 192.4h.01M626.4 117.6h.01M626 190h.01M623.4 234h.01M616.8 190.4h.01M616.3 218.1h.01M620.7 119.7h.01M629.9 158.2h.01M622.8 171.5h.01M621.4 198.8h.01M617.7 242.4h.01M628 210.7h.01M632 139.8h.01M627.7 288.5h.01M617.4 198.5h.01M627.4 151.7h.01M630.2 127.4h.01M629.4 248.6h.01M626.8 224.3h.01M622.4 244.7h.01M623.6 197.8h.01M618 290.4h.01M619.3 128.7h.01M616.7 178.8h.01M628 183.8h.01M630.1 133h.01M616.6 238.4h.01M615.8 138.1h.01M616.5 239.5h.01M612.1 132.3h.01M632.5 192.3h.01M615.4 183.6h.01M626.1 152.4h.01M619.6 126.1h.01M630.8 224.7h.01M613.1 161.7h.01M629.4 243h.01M618.9 200.4h.01M624.3 173.1h.01M628.5 173.6h.01M618.7 181h.01M632 251.4h.01M630 135.2h.01M623.7 190.7h.01M630.1 215.7h.01M618.4 203.7h.01M633.3 180.8h.01M617.5 138.2h.01M632.8 267.6h.01M613.9 204.2h.01M612.8 281.8h.01M623.2 248.4h.01M630.6 195h.01M620 134.3h.01M616.3 112.6h.01M628.3 230.6h.01M621.7 228.2h.01M634 162h.01M613.2 175.4h.01M619.7 254.8h.01M626.3 142.8h.01M615.6 185.9h.01M625.8 207.8h.01M615.7 192.1h.01M620.7 181.4h.01M622 118.7h.01M613.2 203.6h.01M620.6 195h.01M624.6 219.3h.01M623.2 185.8h.01M631.1 194.3h.01M629.2 170.2h.01M631.8 182.4h.01M615.2 151.8h.01M625.2 200.5h.01M629.5 222.8h.01M622.7 181.3h.01M625 270.1h.01M624.6 286.7h.01M628.6 207h.01M621.4 231.4h.01M625.5 208.8h.01M614.5 145.1h.01M618.5 286.7h.01M614.7 209.2h.01M614.8 139h.01M614.2 248.6h.01M617.1 149.9h.01M622.8 221.4h.01M613.2 181.2h.01M615.7 277.8h.01M625.9 107h.01M623.2 167.5h.01M630.2 216.7h.01M624.7 196h.01M621.5 145.6h.01M625.7 259.1h.01M632.2 298.6h.01M629.3 205.8h.01M615.6 168.7h.01M633.8 121.7h.01M626.6 264.2h.01M621.4 295.6h.01M629.8 164h.01M627.8 160.8h.01M614 122.9h.01M611.9 237.2h.01M619 167.1h.01M617.8 208.7h.01M626.1 196.2h.01M623.6 126.3h.01M632.5 274.4h.01M627.5 202.1h.01M621.3 162.1h.01M631.5 260.5h.01M623.3 93.7h.01M625 235.6h.01M621.7 218.5h.01M630.2 188.4h.01M615.2 171.1h.01M630.6 137.7h.01M624 228.3h.01M613 208.4h.01M616.1 208.8h.01M620.6 142.4h.01M625.9 159.9h.01M626 180.6h.01M617.9 195.9h.01M622.8 112.1h.01M626.5 183.4h.01M627 154.6h.01M616.1 101.2h.01M613.4 165.3h.01M621 151.7h.01M619.6 124.8h.01M630.8 112.9h.01M625.7 161.1h.01M625.8 172.4h.01M615 191.8h.01M627.5 272.5h.01M620.9 259.5h.01M625.5 194.2h.01M617.3 208.9h.01M633.4 223.1h.01M614.5 114.3h.01M611.8 211.3h.01M626.6 165.5h.01M623.3 150h.01M623.9 169.3h.01M626.5 190.2h.01M632.6 159.7h.01M618.4 183.2h.01M633.8 175.3h.01M620.7 225.7h.01M622.2 183.4h.01M620.1 173.3h.01M621.3 208.8h.01M621.7 211.7h.01M623.7 185.9h.01M612 156.4h.01M622.4 188.1h.01M625.6 204.4h.01M623.3 173.3h.01M616.1 197.9h.01M617.6 198.1h.01M623.8 221.9h.01M632.9 198.2h.01M633.7 205.2h.01M614.1 176.1h.01M629.5 163.8h.01M619.2 212.2h.01M627.2 210.8h.01M625.1 204.5h.01M614.5 204.7h.01M625.1 143.7h.01M624.8 178.8h.01M615.3 175.7h.01M631.2 210.1h.01M615.3 241.1h.01M622.7 253.1h.01M621.5 196.1h.01M616.7 217.7h.01M617.6 193.7h.01M619.1 167.3h.01M623.1 240h.01M622.8 174.1h.01M629.4 186h.01M611.6 224.6h.01M631.1 187.8h.01M623.1 209.3h.01M620.7 171.2h.01M615.8 175.6h.01M620.2 160.5h.01M632.4 173.1h.01M624.5 234.8h.01M631.5 197.9h.01M629.1 189.8h.01M621.1 163.8h.01M631.8 196.7h.01M618.5 196h.01M617.3 179.1h.01M613.6 199.6h.01M631.3 252.3h.01M631.4 129.3h.01M617.6 182.6h.01M629.7 216.4h.01M630.8 167.2h.01M628.9 205.6h.01M623 168.7h.01M614.1 152h.01M623.2 185.6h.01M613.7 207.9h.01M612.5 169.5h.01M624.7 129.6h.01M627.4 167.4h.01M631.8 220.1h.01M614.7 151.9h.01M621.3 175.8h.01M632.2 200.9h.01M622.7 181.3h.01M614.1 205.2h.01M627.7 213.4h.01M632.4 185.7h.01M633.7 233h.01M615.1 211.1h.01M619.3 172.3h.01M632.2 177.5h.01M631.1 187.3h.01M622.1 193.7h.01M622.3 158.8h.01M616.3 222.7h.01M628.5 200.5h.01M626.3 163.5h.01M614.7 211.4h.01M619.7 209.4h.01M625.1 208.4h.01M625.8 183.1h.01M613 199h.01M630.5 197.6h.01M625.9 264.3h.01M628.1 184.3h.01M626.8 177.4h.01M616.2 185h.01M612.6 193.8h.01M617.6 206.6h.01M614.2 211h.01M613.1 175.8h.01M629.5 186.2h.01M622.2 207.8h.01M625 152.6h.01M615.7 215.4h.01M613.8 222.1h.01M612.4 174.3h.01M617.9 172.4h.01M613.4 163.4h.01M626.3 219.8h.01M625.4 228.6h.01M629.6 211h.01M614.5 230.1h.01M623.7 190.1h.01M622.6 177.7h.01M626.5 199.6h.01M632 212h.01M612.7 206.8h.01M612.7 172.4h.01M612.4 154.6h.01M613.7 164.1h.01M619.7 206.2h.01M615.5 154.7h.01M628 183.7h.01M625.7 171.9h.01M626 194.9h.01M626.7 153.8h.01M631.9 204.3h.01M622.5 198.2h.01M620.4 187h.01M614.1 220.7h.01M619.6 177.5h.01M615.2 221.6h.01M614.6 225.6h.01M611.6 171h.01M631.8 171.9h.01M612.5 249.7h.01M615.4 197.7h.01M629.7 196.9h.01M621.9 222.1h.01M620.7 203.6h.01M629.8 179.1h.01M628 181.1h.01M619.6 173.7h.01M628.7 152.4h.01M633.5 209.4h.01M624.5 181.6h.01M614.1 247.2h.01M628.9 209.8h.01M631.3 194h.01M632.6 220.1h.01M620.7 158.1h.01M615.4 203.6h.01M629.2 199.9h.01M623 168.6h.01M619.3 240.7h.01M615.6 225.7h.01M627.2 165.3h.01M618 210.2h.01M621.5 239.4h.01M625.6 191.3h.01M624.1 207.2h.01M618.8 152.1h.01M614.6 188.8h.01M623.7 180h.01M633.9 161.2h.01M627.9 207.7h.01M620 173.2h.01M613.6 136.9h.01M632.4 162.6h.01M615.6 199.7h.01M619.8 178.4h.01M620.7 207.2h.01M619.1 233.8h.01M627.3 264.8h.01M633 203.2h.01M619.6 216.3h.01M620 160.2h.01M629.9 179.8h.01M618.6 210h.01M615.1 173.5h.01M623.1 155.2h.01M613.9 221h.01M617 198h.01M617.7 208.8h.01M618.9 215.7h.01M627.3 193.1h.01M614.2 166.4h.01M616.1 192.2h.01M622 187.9h.01M626.8 189.8h.01M624.9 170.2h.01M632.2 198h.01M632.4 195.3h.01M623.4 227.3h.01M630.2 177.2h.01M626.2 156.6h.01M621 184.1h.01M614.3 228.1h.01M626.7 226h.01M629 209.4h.01M630.2 187h.01M623.6 226h.01M629 234.4h.01M633.5 202.8h.01M632.4 198.8h.01M614.7 226.8h.01M618.6 201.1h.01M622.5 205h.01M625.5 207.5h.01M621.6 211.3h.01M616.1 188.4h.01M620 178.3h.01M621 210.2h.01M629.8 203.1h.01M621.5 201.2h.01M629.8 178.7h.01M632.5 174.5h.01M621.9 181.9h.01M621.6 196.8h.01M618.3 205.3h.01M624.8 156.4h.01M618.6 225.5h.01M629.8 174.8h.01M623 213.8h.01M618 163.9h.01M614.7 149.7h.01M617.9 167.2h.01M612.7 172.8h.01M623.5 188.2h.01M618.6 184.7h.01M618.8 147.8h.01M612.4 223.6h.01M620.1 187h.01M613.3 195.9h.01M622.9 219h.01M629.6 192.9h.01M619.3 179.6h.01M622.7 215.4h.01M619.9 172.2h.01M618.3 199h.01M625.4 160.7h.01M632.4 181.3h.01M632.3 161.9h.01M621.7 214.5h.01M617.8 157.9h.01M621.3 155.4h.01M617.6 189h.01M631.1 146.1h.01M621.5 181.9h.01M632.5 191.4h.01M622.6 128h.01M611.7 169.1h.01M633.9 158.1h.01M623 179.4h.01M613.9 174.5h.01M626.7 229.4h.01M622.8 206.9h.01M632.1 213.8h.01M628.5 174.6h.01M619.9 199.7h.01M628.7 181.8h.01M626.5 203.2h.01M615 187.6h.01M618.8 182.6h.01M633.8 164h.01M625.4 168.8h.01M617.8 202.7h.01M625.7 215.2h.01M625.7 157.4h.01M632.6 71.2h.01M623.6 317.6h.01M613.2 346.3h.01" stroke="#3cc748" stroke-width="2.75" stroke-linecap="round" fill="none"/>
<path d="M622.8 68.7l1.4 2.5l-1.4 2.5l-1.4 -2.5z" fill="#2b2b2b"/>
<path d="M622.8 315.5l1.4 2.5l-1.4 2.5l-1.4 -2.5z" fill="#2b2b2b"/>
<path d="M622.8 343.8l1.4 2.5l-1.4 2.5l-1.4 -2.5z" fill="#2b2b2b"/>
<path d="M506.1 39.7V24.5H622.9V39.7" fill="none" stroke="#222" stroke-width="1.3"/>
<text x="564.9" y="19.3" font-size="10.6" text-anchor="middle" textLength="131.2" lengthAdjust="spacingAndGlyphs" fill="#111" stroke="#111" stroke-width="0.05">adjusted p-value=0.017</text>
</g>
<g id="panel-b">
<rect x="75.1" y="411.6" width="606.4" height="295" fill="#fff" stroke="#6a6a6a" stroke-width="0.9"/>
<path d="M73.2 693.5L75.1 693.5" stroke="#555" stroke-width="0.8"/>
<text x="70.4" y="698.6" font-size="14.2" text-anchor="end" textLength="20.6" lengthAdjust="spacingAndGlyphs" fill="#111" stroke="#111" stroke-width="0.08">0.0</text>
<path d="M73.2 653.9L75.1 653.9" stroke="#555" stroke-width="0.8"/>
<text x="70.4" y="659" font-size="14.2" text-anchor="end" textLength="20.6" lengthAdjust="spacingAndGlyphs" fill="#111" stroke="#111" stroke-width="0.08">0.2</text>
<path d="M73.2 614.3L75.1 614.3" stroke="#555" stroke-width="0.8"/>
<text x="70.4" y="619.4" font-size="14.2" text-anchor="end" textLength="20.6" lengthAdjust="spacingAndGlyphs" fill="#111" stroke="#111" stroke-width="0.08">0.4</text>
<path d="M73.2 574.6L75.1 574.6" stroke="#555" stroke-width="0.8"/>
<text x="70.4" y="579.7" font-size="14.2" text-anchor="end" textLength="20.6" lengthAdjust="spacingAndGlyphs" fill="#111" stroke="#111" stroke-width="0.08">0.6</text>
<path d="M73.2 535L75.1 535" stroke="#555" stroke-width="0.8"/>
<text x="70.4" y="540.1" font-size="14.2" text-anchor="end" textLength="20.6" lengthAdjust="spacingAndGlyphs" fill="#111" stroke="#111" stroke-width="0.08">0.8</text>
<path d="M73.2 495.4L75.1 495.4" stroke="#555" stroke-width="0.8"/>
<text x="70.4" y="500.5" font-size="14.2" text-anchor="end" textLength="20.6" lengthAdjust="spacingAndGlyphs" fill="#111" stroke="#111" stroke-width="0.08">1.0</text>
<path d="M73.2 455.8L75.1 455.8" stroke="#555" stroke-width="0.8"/>
<text x="70.4" y="460.9" font-size="14.2" text-anchor="end" textLength="20.6" lengthAdjust="spacingAndGlyphs" fill="#111" stroke="#111" stroke-width="0.08">1.2</text>
<path d="M73.2 416.2L75.1 416.2" stroke="#555" stroke-width="0.8"/>
<text x="70.4" y="421.3" font-size="14.2" text-anchor="end" textLength="20.6" lengthAdjust="spacingAndGlyphs" fill="#111" stroke="#111" stroke-width="0.08">1.4</text>
<path d="M123.1 706.6L123.1 708.5" stroke="#555" stroke-width="0.8"/>
<text x="123.1" y="721.4" font-size="14.2" text-anchor="middle" textLength="8.5" lengthAdjust="spacingAndGlyphs" fill="#111" stroke="#111" stroke-width="0.08">1</text>
<path d="M178.4 706.6L178.4 708.5" stroke="#555" stroke-width="0.8"/>
<text x="178.4" y="721.4" font-size="14.2" text-anchor="middle" textLength="8.5" lengthAdjust="spacingAndGlyphs" fill="#111" stroke="#111" stroke-width="0.08">2</text>
<path d="M228.2 706.6L228.2 708.5" stroke="#555" stroke-width="0.8"/>
<text x="228.2" y="721.4" font-size="14.2" text-anchor="middle" textLength="8.5" lengthAdjust="spacingAndGlyphs" fill="#111" stroke="#111" stroke-width="0.08">3</text>
<path d="M266.6 706.6L266.6 708.5" stroke="#555" stroke-width="0.8"/>
<text x="266.6" y="721.4" font-size="14.2" text-anchor="middle" textLength="8.5" lengthAdjust="spacingAndGlyphs" fill="#111" stroke="#111" stroke-width="0.08">5</text>
<path d="M302.6 706.6L302.6 708.5" stroke="#555" stroke-width="0.8"/>
<text x="302.6" y="721.4" font-size="14.2" text-anchor="middle" textLength="8.5" lengthAdjust="spacingAndGlyphs" fill="#111" stroke="#111" stroke-width="0.08">6</text>
<path d="M341.3 706.6L341.3 708.5" stroke="#555" stroke-width="0.8"/>
<text x="341.3" y="721.4" font-size="14.2" text-anchor="middle" textLength="8.5" lengthAdjust="spacingAndGlyphs" fill="#111" stroke="#111" stroke-width="0.08">7</text>
<path d="M369.8 706.6L369.8 708.5" stroke="#555" stroke-width="0.8"/>
<text x="369.8" y="721.4" font-size="14.2" text-anchor="middle" textLength="8.5" lengthAdjust="spacingAndGlyphs" fill="#111" stroke="#111" stroke-width="0.08">8</text>
<path d="M398.3 706.6L398.3 708.5" stroke="#555" stroke-width="0.8"/>
<text x="398.3" y="721.4" font-size="14.2" text-anchor="middle" textLength="8.5" lengthAdjust="spacingAndGlyphs" fill="#111" stroke="#111" stroke-width="0.08">9</text>
<path d="M431.8 706.6L431.8 708.5" stroke="#555" stroke-width="0.8"/>
<text x="431.8" y="721.4" font-size="14.2" text-anchor="middle" textLength="17" lengthAdjust="spacingAndGlyphs" fill="#111" stroke="#111" stroke-width="0.08">10</text>
<path d="M463.4 706.6L463.4 708.5" stroke="#555" stroke-width="0.8"/>
<text x="463.4" y="721.4" font-size="14.2" text-anchor="middle" textLength="17" lengthAdjust="spacingAndGlyphs" fill="#111" stroke="#111" stroke-width="0.08">11</text>
<path d="M498.4 706.6L498.4 708.5" stroke="#555" stroke-width="0.8"/>
<text x="498.4" y="721.4" font-size="14.2" text-anchor="middle" textLength="17" lengthAdjust="spacingAndGlyphs" fill="#111" stroke="#111" stroke-width="0.08">12</text>
<path d="M525.7 706.6L525.7 708.5" stroke="#555" stroke-width="0.8"/>
<text x="525.7" y="721.4" font-size="14.2" text-anchor="middle" textLength="17" lengthAdjust="spacingAndGlyphs" fill="#111" stroke="#111" stroke-width="0.08">14</text>
<path d="M543.2 706.6L543.2 708.5" stroke="#555" stroke-width="0.8"/>
<text x="543.2" y="721.4" font-size="14.2" text-anchor="middle" textLength="17" lengthAdjust="spacingAndGlyphs" fill="#111" stroke="#111" stroke-width="0.08">15</text>
<path d="M560 706.6L560 708.5" stroke="#555" stroke-width="0.8"/>
<text x="560" y="721.4" font-size="14.2" text-anchor="middle" textLength="17" lengthAdjust="spacingAndGlyphs" fill="#111" stroke="#111" stroke-width="0.08">16</text>
<path d="M582.6 706.6L582.6 708.5" stroke="#555" stroke-width="0.8"/>
<text x="582.6" y="721.4" font-size="14.2" text-anchor="middle" textLength="17" lengthAdjust="spacingAndGlyphs" fill="#111" stroke="#111" stroke-width="0.08">17</text>
<path d="M605.6 706.6L605.6 708.5" stroke="#555" stroke-width="0.8"/>
<text x="605.6" y="721.4" font-size="14.2" text-anchor="middle" textLength="17" lengthAdjust="spacingAndGlyphs" fill="#111" stroke="#111" stroke-width="0.08">18</text>
<path d="M626.4 706.6L626.4 708.5" stroke="#555" stroke-width="0.8"/>
<text x="626.4" y="721.4" font-size="14.2" text-anchor="middle" textLength="17" lengthAdjust="spacingAndGlyphs" fill="#111" stroke="#111" stroke-width="0.08">19</text>
<path d="M646.6 706.6L646.6 708.5" stroke="#555" stroke-width="0.8"/>
<text x="646.6" y="721.4" font-size="14.2" text-anchor="middle" textLength="17" lengthAdjust="spacingAndGlyphs" fill="#111" stroke="#111" stroke-width="0.08">20</text>
<path d="M75.1 435.4H681.5" stroke="#ff2020" stroke-width="0.85" stroke-dasharray="1.6 1.3" fill="none"/>
<path d="M102.7 693.5h.01M114.2 693.5h.01M129.3 693.5h.01M131.3 693.5h.01M133.2 693.5h.01M135 693.5h.01M136.7 693.5h.01M144.4 693.5h.01" stroke="#000" stroke-width="4.7" stroke-linecap="round" fill="none"/>
<path d="M162 693.5h.01M169 693.5h.01M178 681.6h.01M178.2 693.5h.01M180.4 693.5h.01M186.9 693.5h.01M194.8 693.5h.01M196.9 693.5h.01M198.6 693.5h.01" stroke="#808080" stroke-width="4.7" stroke-linecap="round" fill="none"/>
<path d="M219.8 693.5h.01M220.8 693.5h.01M221.4 636.1h.01M231.4 693.5h.01M241.1 693.5h.01M247.3 693.5h.01M247.3 681.6h.01" stroke="#000" stroke-width="4.7" stroke-linecap="round" fill="none"/>
<path d="M267.1 693.5h.01M280.5 693.5h.01M283 693.5h.01M284.7 693.5h.01" stroke="#808080" stroke-width="4.7" stroke-linecap="round" fill="none"/>
<path d="M296.2 693.5h.01M297.6 649.9h.01M298.1 693.5h.01M307.1 693.5h.01M308.1 693.5h.01M315 693.5h.01M317.8 693.5h.01" stroke="#000" stroke-width="4.7" stroke-linecap="round" fill="none"/>
<path d="M334.1 693.5h.01M343.2 693.5h.01M356.9 693.5h.01" stroke="#808080" stroke-width="4.7" stroke-linecap="round" fill="none"/>
<path d="M384.9 693.5h.01" stroke="#000" stroke-width="4.7" stroke-linecap="round" fill="none"/>
<path d="M387.7 693.5h.01M393.4 693.5h.01M410.7 693.5h.01" stroke="#808080" stroke-width="4.7" stroke-linecap="round" fill="none"/>
<path d="M426.9 693.5h.01M427.4 636.1h.01M427.9 693.5h.01M438.5 693.5h.01" stroke="#000" stroke-width="4.7" stroke-linecap="round" fill="none"/>
<path d="M455.9 693.5h.01M460.9 693.5h.01M466.1 693.5h.01M473.3 693.5h.01" stroke="#808080" stroke-width="4.7" stroke-linecap="round" fill="none"/>
<path d="M489.8 693.5h.01M490.7 693.5h.01M498.2 693.5h.01M499.1 693.5h.01M508.8 693.5h.01M509.8 693.5h.01" stroke="#000" stroke-width="4.7" stroke-linecap="round" fill="none"/>
<path d="M536.7 693.5h.01" stroke="#808080" stroke-width="4.7" stroke-linecap="round" fill="none"/>
<path d="M548.7 693.5h.01M550.2 693.5h.01" stroke="#000" stroke-width="4.7" stroke-linecap="round" fill="none"/>
<path d="M568.9 693.5h.01" stroke="#808080" stroke-width="4.7" stroke-linecap="round" fill="none"/>
<path d="M578.3 693.5h.01M581.8 693.5h.01M585.3 693.5h.01M589.9 658.6h.01" stroke="#000" stroke-width="4.7" stroke-linecap="round" fill="none"/>
<path d="M616.9 636.1h.01M616.9 693.5h.01" stroke="#808080" stroke-width="4.7" stroke-linecap="round" fill="none"/>
<path d="M624.2 636.1h.01M624.2 693.5h.01M624.5 663.2h.01M625.8 693.5h.01M629.6 693.5h.01M631 693.5h.01" stroke="#000" stroke-width="4.7" stroke-linecap="round" fill="none"/>
<path d="M653.7 693.5h.01" stroke="#808080" stroke-width="4.7" stroke-linecap="round" fill="none"/>
<circle cx="297.5" cy="425.5" r="2.35" fill="#ff1a0a"/>
<text x="378.3" y="408.2" font-size="14.2" text-anchor="middle" textLength="186.5" lengthAdjust="spacingAndGlyphs" fill="#111" stroke="#111" stroke-width="0.08">Cluster 1&amp;4 vs. Cluster 2&amp;3</text>
<text x="377.5" y="736.2" font-size="14.2" text-anchor="middle" textLength="89.2" lengthAdjust="spacingAndGlyphs" fill="#111" stroke="#111" stroke-width="0.08">Chromosome</text>
<text x="44.1" y="559.2" font-size="14.8" text-anchor="middle" textLength="110.4" lengthAdjust="spacingAndGlyphs" transform="rotate(-90 44.1 559.2)" fill="#111" stroke="#111" stroke-width="0.08">-log10(adj p-val)</text>
</g>
<g id="panel-c">
<rect x="76.7" y="764.9" width="606.2" height="295.4" fill="#fff" stroke="#6a6a6a" stroke-width="0.9"/>
<path d="M74.8 1046.6L76.7 1046.6" stroke="#555" stroke-width="0.8"/>
<text x="72.2" y="1051.7" font-size="14.2" text-anchor="end" textLength="20.6" lengthAdjust="spacingAndGlyphs" fill="#111" stroke="#111" stroke-width="0.08">0.0</text>
<path d="M74.8 1011.6L76.7 1011.6" stroke="#555" stroke-width="0.8"/>
<text x="72.2" y="1016.7" font-size="14.2" text-anchor="end" textLength="20.6" lengthAdjust="spacingAndGlyphs" fill="#111" stroke="#111" stroke-width="0.08">0.2</text>
<path d="M74.8 976.6L76.7 976.6" stroke="#555" stroke-width="0.8"/>
<text x="72.2" y="981.7" font-size="14.2" text-anchor="end" textLength="20.6" lengthAdjust="spacingAndGlyphs" fill="#111" stroke="#111" stroke-width="0.08">0.4</text>
<path d="M74.8 941.7L76.7 941.7" stroke="#555" stroke-width="0.8"/>
<text x="72.2" y="946.8" font-size="14.2" text-anchor="end" textLength="20.6" lengthAdjust="spacingAndGlyphs" fill="#111" stroke="#111" stroke-width="0.08">0.6</text>
<path d="M74.8 906.7L76.7 906.7" stroke="#555" stroke-width="0.8"/>
<text x="72.2" y="911.8" font-size="14.2" text-anchor="end" textLength="20.6" lengthAdjust="spacingAndGlyphs" fill="#111" stroke="#111" stroke-width="0.08">0.8</text>
<path d="M74.8 871.7L76.7 871.7" stroke="#555" stroke-width="0.8"/>
<text x="72.2" y="876.8" font-size="14.2" text-anchor="end" textLength="20.6" lengthAdjust="spacingAndGlyphs" fill="#111" stroke="#111" stroke-width="0.08">1.0</text>
<path d="M74.8 836.7L76.7 836.7" stroke="#555" stroke-width="0.8"/>
<text x="72.2" y="841.8" font-size="14.2" text-anchor="end" textLength="20.6" lengthAdjust="spacingAndGlyphs" fill="#111" stroke="#111" stroke-width="0.08">1.2</text>
<path d="M74.8 801.7L76.7 801.7" stroke="#555" stroke-width="0.8"/>
<text x="72.2" y="806.8" font-size="14.2" text-anchor="end" textLength="20.6" lengthAdjust="spacingAndGlyphs" fill="#111" stroke="#111" stroke-width="0.08">1.4</text>
<path d="M74.8 766.8L76.7 766.8" stroke="#555" stroke-width="0.8"/>
<text x="72.2" y="771.9" font-size="14.2" text-anchor="end" textLength="20.6" lengthAdjust="spacingAndGlyphs" fill="#111" stroke="#111" stroke-width="0.08">1.6</text>
<path d="M124.7 1060.3L124.7 1062.2" stroke="#555" stroke-width="0.8"/>
<text x="124.7" y="1074.7" font-size="14.2" text-anchor="middle" textLength="8.5" lengthAdjust="spacingAndGlyphs" fill="#111" stroke="#111" stroke-width="0.08">1</text>
<path d="M180 1060.3L180 1062.2" stroke="#555" stroke-width="0.8"/>
<text x="180" y="1074.7" font-size="14.2" text-anchor="middle" textLength="8.5" lengthAdjust="spacingAndGlyphs" fill="#111" stroke="#111" stroke-width="0.08">2</text>
<path d="M229.8 1060.3L229.8 1062.2" stroke="#555" stroke-width="0.8"/>
<text x="229.8" y="1074.7" font-size="14.2" text-anchor="middle" textLength="8.5" lengthAdjust="spacingAndGlyphs" fill="#111" stroke="#111" stroke-width="0.08">3</text>
<path d="M268.2 1060.3L268.2 1062.2" stroke="#555" stroke-width="0.8"/>
<text x="268.2" y="1074.7" font-size="14.2" text-anchor="middle" textLength="8.5" lengthAdjust="spacingAndGlyphs" fill="#111" stroke="#111" stroke-width="0.08">5</text>
<path d="M304.2 1060.3L304.2 1062.2" stroke="#555" stroke-width="0.8"/>
<text x="304.2" y="1074.7" font-size="14.2" text-anchor="middle" textLength="8.5" lengthAdjust="spacingAndGlyphs" fill="#111" stroke="#111" stroke-width="0.08">6</text>
<path d="M342.9 1060.3L342.9 1062.2" stroke="#555" stroke-width="0.8"/>
<text x="342.9" y="1074.7" font-size="14.2" text-anchor="middle" textLength="8.5" lengthAdjust="spacingAndGlyphs" fill="#111" stroke="#111" stroke-width="0.08">7</text>
<path d="M371.4 1060.3L371.4 1062.2" stroke="#555" stroke-width="0.8"/>
<text x="371.4" y="1074.7" font-size="14.2" text-anchor="middle" textLength="8.5" lengthAdjust="spacingAndGlyphs" fill="#111" stroke="#111" stroke-width="0.08">8</text>
<path d="M399.9 1060.3L399.9 1062.2" stroke="#555" stroke-width="0.8"/>
<text x="399.9" y="1074.7" font-size="14.2" text-anchor="middle" textLength="8.5" lengthAdjust="spacingAndGlyphs" fill="#111" stroke="#111" stroke-width="0.08">9</text>
<path d="M433.4 1060.3L433.4 1062.2" stroke="#555" stroke-width="0.8"/>
<text x="433.4" y="1074.7" font-size="14.2" text-anchor="middle" textLength="17" lengthAdjust="spacingAndGlyphs" fill="#111" stroke="#111" stroke-width="0.08">10</text>
<path d="M465 1060.3L465 1062.2" stroke="#555" stroke-width="0.8"/>
<text x="465" y="1074.7" font-size="14.2" text-anchor="middle" textLength="17" lengthAdjust="spacingAndGlyphs" fill="#111" stroke="#111" stroke-width="0.08">11</text>
<path d="M500 1060.3L500 1062.2" stroke="#555" stroke-width="0.8"/>
<text x="500" y="1074.7" font-size="14.2" text-anchor="middle" textLength="17" lengthAdjust="spacingAndGlyphs" fill="#111" stroke="#111" stroke-width="0.08">12</text>
<path d="M527.3 1060.3L527.3 1062.2" stroke="#555" stroke-width="0.8"/>
<text x="527.3" y="1074.7" font-size="14.2" text-anchor="middle" textLength="17" lengthAdjust="spacingAndGlyphs" fill="#111" stroke="#111" stroke-width="0.08">14</text>
<path d="M544.8 1060.3L544.8 1062.2" stroke="#555" stroke-width="0.8"/>
<text x="544.8" y="1074.7" font-size="14.2" text-anchor="middle" textLength="17" lengthAdjust="spacingAndGlyphs" fill="#111" stroke="#111" stroke-width="0.08">15</text>
<path d="M561.6 1060.3L561.6 1062.2" stroke="#555" stroke-width="0.8"/>
<text x="561.6" y="1074.7" font-size="14.2" text-anchor="middle" textLength="17" lengthAdjust="spacingAndGlyphs" fill="#111" stroke="#111" stroke-width="0.08">16</text>
<path d="M584.2 1060.3L584.2 1062.2" stroke="#555" stroke-width="0.8"/>
<text x="584.2" y="1074.7" font-size="14.2" text-anchor="middle" textLength="17" lengthAdjust="spacingAndGlyphs" fill="#111" stroke="#111" stroke-width="0.08">17</text>
<path d="M607.2 1060.3L607.2 1062.2" stroke="#555" stroke-width="0.8"/>
<text x="607.2" y="1074.7" font-size="14.2" text-anchor="middle" textLength="17" lengthAdjust="spacingAndGlyphs" fill="#111" stroke="#111" stroke-width="0.08">18</text>
<path d="M628 1060.3L628 1062.2" stroke="#555" stroke-width="0.8"/>
<text x="628" y="1074.7" font-size="14.2" text-anchor="middle" textLength="17" lengthAdjust="spacingAndGlyphs" fill="#111" stroke="#111" stroke-width="0.08">19</text>
<path d="M648.2 1060.3L648.2 1062.2" stroke="#555" stroke-width="0.8"/>
<text x="648.2" y="1074.7" font-size="14.2" text-anchor="middle" textLength="17" lengthAdjust="spacingAndGlyphs" fill="#111" stroke="#111" stroke-width="0.08">20</text>
<path d="M76.7 818.5H682.9" stroke="#ff2020" stroke-width="0.85" stroke-dasharray="1.6 1.3" fill="none"/>
<path d="M104.3 1046.6h.01M115.8 1046.6h.01M130.6 1044.5h.01M130.9 1046.6h.01M132.9 1046.6h.01M134.8 1046.6h.01M136.6 1046.6h.01M138.3 1046.6h.01M146 1046.6h.01" stroke="#000" stroke-width="4.7" stroke-linecap="round" fill="none"/>
<path d="M163.6 1046.6h.01M170.6 1046.6h.01M179.2 1046.6h.01M180.6 1046.6h.01M182 1046.6h.01M188.5 1046.6h.01M196.4 1046.6h.01M198.5 1046.6h.01M200.2 1046.6h.01" stroke="#808080" stroke-width="4.7" stroke-linecap="round" fill="none"/>
<path d="M221.4 1046.6h.01M222.4 1046.6h.01M223.1 983.6h.01M233 1046.6h.01M242.7 1046.6h.01M248.8 1046.6h.01M248.8 1028.9h.01" stroke="#000" stroke-width="4.7" stroke-linecap="round" fill="none"/>
<path d="M268.8 1046.6h.01M282.2 1046.6h.01M284.6 1046.6h.01M286.6 1046.6h.01" stroke="#808080" stroke-width="4.7" stroke-linecap="round" fill="none"/>
<path d="M297.8 1046.6h.01M299.4 987.7h.01M299.8 1046.6h.01M299.9 1044.2h.01M308.8 1046.6h.01M309.8 1046.6h.01M316.8 1046.6h.01M319.6 1046.6h.01" stroke="#000" stroke-width="4.7" stroke-linecap="round" fill="none"/>
<path d="M335.8 1046.6h.01M345 1046.6h.01M358.6 1046.6h.01" stroke="#808080" stroke-width="4.7" stroke-linecap="round" fill="none"/>
<path d="M386.4 1046.6h.01" stroke="#000" stroke-width="4.7" stroke-linecap="round" fill="none"/>
<path d="M389.4 1046.6h.01M395.1 1046.6h.01M412.5 1046.6h.01" stroke="#808080" stroke-width="4.7" stroke-linecap="round" fill="none"/>
<path d="M428.6 1046.6h.01M429.1 985.4h.01M429.6 1046.6h.01M440 1046.6h.01" stroke="#000" stroke-width="4.7" stroke-linecap="round" fill="none"/>
<path d="M457.4 1046.6h.01M462.4 1046.6h.01M467.8 1046.6h.01M474.8 1046.6h.01" stroke="#808080" stroke-width="4.7" stroke-linecap="round" fill="none"/>
<path d="M491.4 1046.6h.01M492.4 1046.6h.01M499.8 1046.6h.01M500.8 1046.6h.01M510.6 1046.6h.01M511.1 1044.5h.01" stroke="#000" stroke-width="4.7" stroke-linecap="round" fill="none"/>
<path d="M538.3 1046.6h.01" stroke="#808080" stroke-width="4.7" stroke-linecap="round" fill="none"/>
<path d="M550.3 1046.6h.01M551.8 1046.6h.01" stroke="#000" stroke-width="4.7" stroke-linecap="round" fill="none"/>
<path d="M570.5 1046.6h.01" stroke="#808080" stroke-width="4.7" stroke-linecap="round" fill="none"/>
<path d="M580.2 1046.6h.01M583.7 1046.6h.01M586.4 1046.6h.01M591.8 1046.6h.01" stroke="#000" stroke-width="4.7" stroke-linecap="round" fill="none"/>
<path d="M618.8 1044.5h.01M618.8 1046.6h.01" stroke="#808080" stroke-width="4.7" stroke-linecap="round" fill="none"/>
<path d="M625.9 1044.5h.01M626.1 1037.7h.01M626.1 1046.6h.01M627.6 1046.6h.01M631 1046.6h.01M632.3 1046.6h.01" stroke="#000" stroke-width="4.7" stroke-linecap="round" fill="none"/>
<path d="M655 1046.6h.01" stroke="#808080" stroke-width="4.7" stroke-linecap="round" fill="none"/>
<circle cx="299.2" cy="778.3" r="2.35" fill="#ff1a0a"/>
<text x="379.7" y="761.7" font-size="14.2" text-anchor="middle" textLength="186.5" lengthAdjust="spacingAndGlyphs" fill="#111" stroke="#111" stroke-width="0.08">Cluster 1&amp;2&amp;4 vs. Cluster 3</text>
<text x="379" y="1089.4" font-size="14.2" text-anchor="middle" textLength="89.2" lengthAdjust="spacingAndGlyphs" fill="#111" stroke="#111" stroke-width="0.08">Chromosome</text>
<text x="45.6" y="913" font-size="14.8" text-anchor="middle" textLength="110.4" lengthAdjust="spacingAndGlyphs" transform="rotate(-90 45.6 913)" fill="#111" stroke="#111" stroke-width="0.08">-log10(adj p-val)</text>
</g>
<text x="0" y="15.6" font-size="27.5" text-anchor="start" textLength="13.5" lengthAdjust="spacingAndGlyphs" fill="#000" stroke="#000" stroke-width="0.3">a</text>
<text x="-0.4" y="410.9" font-size="26.5" text-anchor="start" fill="#000" stroke="#000" stroke-width="0.3">b</text>
<text x="-0.1" y="761.3" font-size="26.8" text-anchor="start" fill="#000" stroke="#000" stroke-width="0.3">c</text>
</svg>
</body>
</html>
